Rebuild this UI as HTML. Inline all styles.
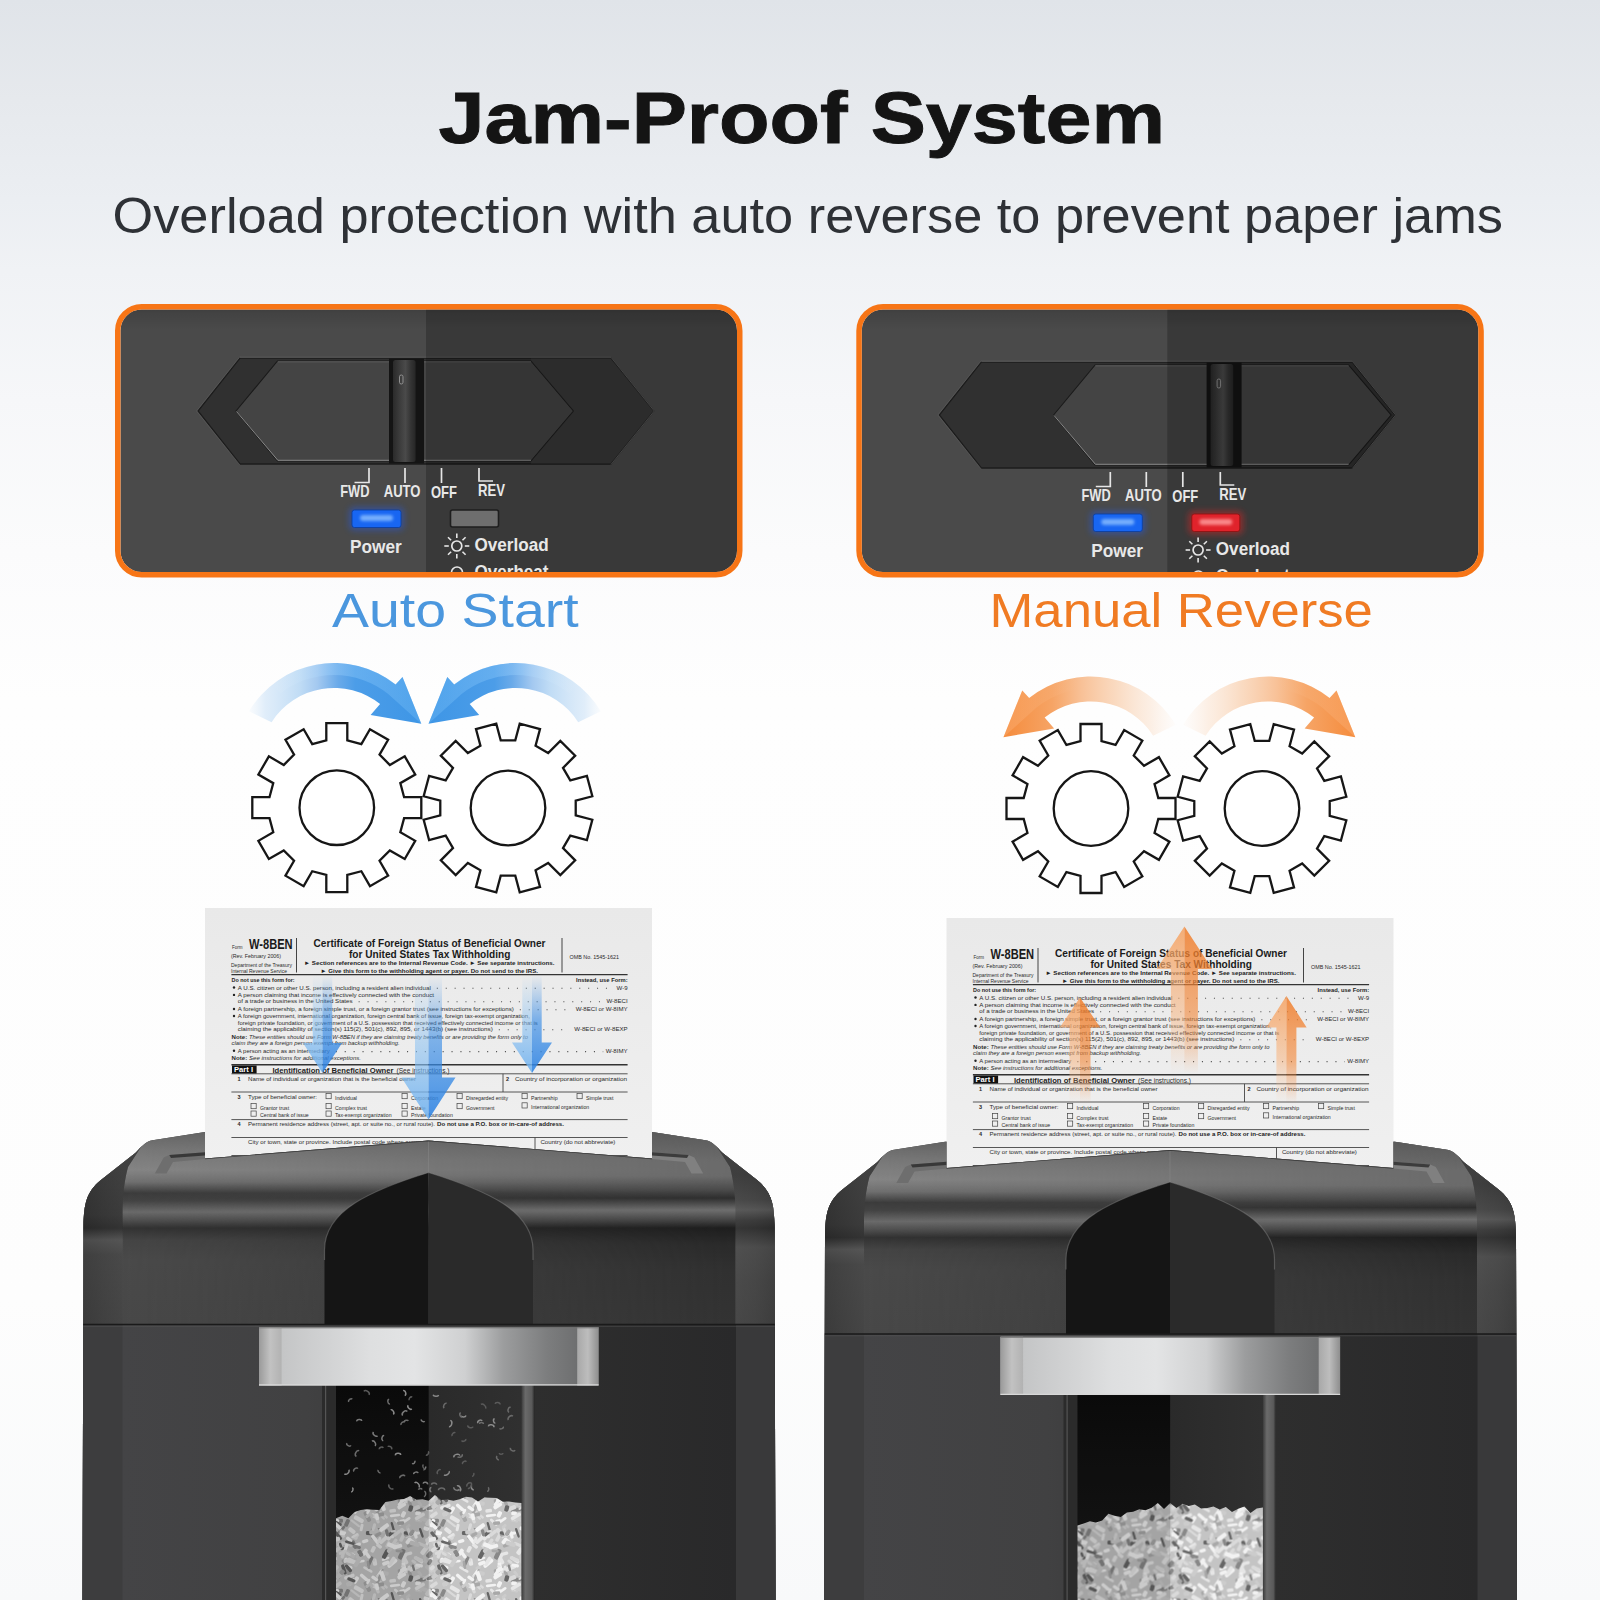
<!DOCTYPE html><html><head><meta charset="utf-8"><style>html,body{margin:0;padding:0;width:1600px;height:1600px;overflow:hidden;background:#f7f7f8}svg{display:block}body{font-family:"Liberation Sans",sans-serif}</style></head><body><svg width="1600" height="1600" viewBox="0 0 1600 1600"><defs>
<linearGradient id="bg" x1="0" y1="0" x2="0" y2="1">
<stop offset="0" stop-color="#e0e4e9"/><stop offset="0.0625" stop-color="#e6e9ed"/><stop offset="0.125" stop-color="#ebeef2"/><stop offset="0.169" stop-color="#f0f2f5"/><stop offset="0.25" stop-color="#f6f7f9"/><stop offset="0.344" stop-color="#fbfbfc"/><stop offset="0.4375" stop-color="#fefefe"/><stop offset="0.8125" stop-color="#fdfdfd"/><stop offset="1" stop-color="#f8f9fa"/>
</linearGradient>
<filter id="blur1" x="-50%" y="-50%" width="200%" height="200%"><feGaussianBlur stdDeviation="1.5"/></filter>
<filter id="blur3" x="-50%" y="-50%" width="200%" height="200%"><feGaussianBlur stdDeviation="3"/></filter>
<linearGradient id="gblue" gradientUnits="userSpaceOnUse" x1="248" y1="0" x2="421" y2="0">
<stop offset="0" stop-color="#dcebf9" stop-opacity="0.1"/><stop offset="0.1" stop-color="#d3e6f8" stop-opacity="0.7"/><stop offset="0.3" stop-color="#c0dcf5"/><stop offset="0.4" stop-color="#a4c9f0"/><stop offset="0.52" stop-color="#6aaae9"/><stop offset="0.62" stop-color="#4c9de8"/><stop offset="1" stop-color="#3e96e6"/>
</linearGradient>
<linearGradient id="hlblue" gradientUnits="userSpaceOnUse" x1="270" y1="0" x2="421" y2="0">
<stop offset="0" stop-color="#fff" stop-opacity="0"/><stop offset="0.4" stop-color="#9fd4ff" stop-opacity="0.35"/><stop offset="1" stop-color="#7cc4fa" stop-opacity="0.3"/>
</linearGradient>
<linearGradient id="hlorange" gradientUnits="userSpaceOnUse" x1="270" y1="0" x2="421" y2="0">
<stop offset="0" stop-color="#fff" stop-opacity="0"/><stop offset="0.5" stop-color="#ffd0a8" stop-opacity="0.0"/><stop offset="1" stop-color="#ffc090" stop-opacity="0.3"/>
</linearGradient>
<linearGradient id="gorange" gradientUnits="userSpaceOnUse" x1="248" y1="0" x2="421" y2="0">
<stop offset="0" stop-color="#fbe6d6" stop-opacity="0.05"/><stop offset="0.15" stop-color="#fae0cb" stop-opacity="0.5"/><stop offset="0.35" stop-color="#f9d4b6" stop-opacity="0.85"/><stop offset="0.55" stop-color="#f8c197"/><stop offset="0.72" stop-color="#f6a465"/><stop offset="1" stop-color="#f58c3d"/>
</linearGradient>

<linearGradient id="roof" x1="0" y1="1125" x2="0" y2="1325" gradientUnits="userSpaceOnUse"><stop offset="0.000" stop-color="#5e5e5e"/><stop offset="0.125" stop-color="#787878"/><stop offset="0.225" stop-color="#858585"/><stop offset="0.285" stop-color="#707070"/><stop offset="0.340" stop-color="#3c3c3c"/><stop offset="0.380" stop-color="#444444"/><stop offset="0.435" stop-color="#6a6a6a"/><stop offset="0.475" stop-color="#505050"/><stop offset="0.515" stop-color="#333333"/><stop offset="0.575" stop-color="#454545"/><stop offset="0.675" stop-color="#4a4a4a"/><stop offset="1.000" stop-color="#484848"/></linearGradient>
<linearGradient id="shadeH" x1="122" y1="0" x2="736" y2="0" gradientUnits="userSpaceOnUse">
<stop offset="0" stop-color="#000" stop-opacity="0"/><stop offset="0.4" stop-color="#000" stop-opacity="0.03"/><stop offset="1" stop-color="#000" stop-opacity="0.2"/>
</linearGradient>
<linearGradient id="ptop" x1="0" y1="0" x2="0" y2="1">
<stop offset="0" stop-color="#000" stop-opacity="0.25"/><stop offset="0.45" stop-color="#000" stop-opacity="0.1"/><stop offset="1" stop-color="#000" stop-opacity="0"/>
</linearGradient>
<linearGradient id="knob" x1="0" y1="0" x2="1" y2="0">
<stop offset="0" stop-color="#2a2a2a"/><stop offset="0.3" stop-color="#3c3c3c"/><stop offset="0.55" stop-color="#4a4a4a"/><stop offset="0.8" stop-color="#333"/><stop offset="1" stop-color="#262626"/>
</linearGradient>
<linearGradient id="binH" x1="122" y1="0" x2="736" y2="0" gradientUnits="userSpaceOnUse">
<stop offset="0" stop-color="#444446"/><stop offset="0.3" stop-color="#414142"/><stop offset="0.67" stop-color="#2e2e2e"/><stop offset="1" stop-color="#29292a"/>
</linearGradient>
<linearGradient id="bandHL" x1="0" y1="0" x2="0" y2="1">
<stop offset="0" stop-color="#fff" stop-opacity="0"/><stop offset="0.55" stop-color="#fff" stop-opacity="0.0"/><stop offset="0.72" stop-color="#fff" stop-opacity="0.12"/><stop offset="1" stop-color="#fff" stop-opacity="0"/>
</linearGradient>
<linearGradient id="sideV" x1="0" y1="1130" x2="0" y2="1325" gradientUnits="userSpaceOnUse">
<stop offset="0" stop-color="#444"/><stop offset="0.256" stop-color="#3a3a3a"/><stop offset="0.436" stop-color="#333"/><stop offset="0.503" stop-color="#222"/><stop offset="0.564" stop-color="#666"/><stop offset="0.641" stop-color="#4e4e4e"/><stop offset="1" stop-color="#464646"/>
</linearGradient>
<linearGradient id="sideVR" x1="0" y1="1130" x2="0" y2="1325" gradientUnits="userSpaceOnUse">
<stop offset="0" stop-color="#404040"/><stop offset="0.23" stop-color="#383838"/><stop offset="0.359" stop-color="#4e4e4e"/><stop offset="0.41" stop-color="#6e6e6e"/><stop offset="0.462" stop-color="#3a3a3a"/><stop offset="0.503" stop-color="#262626"/><stop offset="0.6" stop-color="#5a5a5a"/><stop offset="0.77" stop-color="#505050"/><stop offset="1" stop-color="#4a4a4a"/>
</linearGradient>
<linearGradient id="roof2" x1="0" y1="1125" x2="0" y2="1325" gradientUnits="userSpaceOnUse"><stop offset="0.000" stop-color="#555555"/><stop offset="0.175" stop-color="#6a6a6a"/><stop offset="0.255" stop-color="#6a6a6a"/><stop offset="0.325" stop-color="#4a4a4a"/><stop offset="0.365" stop-color="#2e2e2e"/><stop offset="0.425" stop-color="#6e6e6e"/><stop offset="0.475" stop-color="#444444"/><stop offset="0.515" stop-color="#1e1e1e"/><stop offset="0.600" stop-color="#2a2a2a"/><stop offset="0.725" stop-color="#303030"/><stop offset="1.000" stop-color="#333333"/></linearGradient>
<linearGradient id="rampH" x1="122" y1="0" x2="736" y2="0" gradientUnits="userSpaceOnUse">
<stop offset="0" stop-color="#000"/><stop offset="1" stop-color="#fff"/>
</linearGradient>
<mask id="rmask" maskUnits="userSpaceOnUse" x="60" y="1100" width="760" height="260"><rect x="60" y="1100" width="760" height="260" fill="url(#rampH)"/></mask>
<linearGradient id="sideL" x1="82" y1="0" x2="123" y2="0" gradientUnits="userSpaceOnUse">
<stop offset="0" stop-color="#2e2e2e"/><stop offset="0.5" stop-color="#3a3a3a"/><stop offset="1" stop-color="#444"/>
</linearGradient>
<linearGradient id="sideR" x1="736" y1="0" x2="776" y2="0" gradientUnits="userSpaceOnUse">
<stop offset="0" stop-color="#454545"/><stop offset="0.5" stop-color="#3d3d3d"/><stop offset="1" stop-color="#2e2e2e"/>
</linearGradient>
<linearGradient id="winL" x1="0" y1="0" x2="0" y2="1">
<stop offset="0" stop-color="#0d0d0d"/><stop offset="1" stop-color="#1c1c1c"/>
</linearGradient>
<linearGradient id="winR" x1="0" y1="0" x2="1" y2="0">
<stop offset="0" stop-color="#2a2a2a"/><stop offset="1" stop-color="#303030"/>
</linearGradient>
<linearGradient id="frameR" x1="0" y1="0" x2="1" y2="0">
<stop offset="0" stop-color="#3a3a3a"/><stop offset="0.3" stop-color="#6a6a6a"/><stop offset="0.8" stop-color="#5a5a5a"/><stop offset="1" stop-color="#2a2a2a"/>
</linearGradient>
<linearGradient id="handle" x1="281.6" y1="0" x2="577.2" y2="0" gradientUnits="userSpaceOnUse">
<stop offset="0" stop-color="#c4c5c6"/><stop offset="0.3" stop-color="#dedfe0"/><stop offset="0.45" stop-color="#e3e4e5"/><stop offset="0.62" stop-color="#cfd0d1"/><stop offset="0.75" stop-color="#9c9d9e"/><stop offset="0.9" stop-color="#7c7d7e"/><stop offset="1" stop-color="#6e6f70"/>
</linearGradient>
<linearGradient id="capL" x1="0" y1="0" x2="1" y2="0">
<stop offset="0" stop-color="#9a9a9a"/><stop offset="0.5" stop-color="#c2c2c2"/><stop offset="1" stop-color="#b2b2b2"/>
</linearGradient>
<linearGradient id="capR" x1="0" y1="0" x2="1" y2="0">
<stop offset="0" stop-color="#a8a8a8"/><stop offset="0.5" stop-color="#bdbdbd"/><stop offset="1" stop-color="#8e8e8e"/>
</linearGradient>
<pattern id="shredpat" width="96" height="70" patternUnits="userSpaceOnUse"><rect width="96" height="70" fill="#c4c4c4"/><rect x="37.7" y="37.5" width="11.5" height="3.3" rx="1.5" fill="#dadada" transform="rotate(14 43.4 39.2)"/><rect x="13.0" y="33.8" width="9.4" height="4.0" rx="1.5" fill="#f2f2f2" transform="rotate(-31 17.7 35.8)"/><rect x="3.8" y="55.5" width="9.9" height="2.3" rx="1.5" fill="#666" transform="rotate(74 8.7 56.7)"/><rect x="99.8" y="55.5" width="9.9" height="2.3" rx="1.5" fill="#666" transform="rotate(74 104.7 56.7)"/><rect x="59.7" y="42.0" width="6.1" height="2.2" rx="1.5" fill="#dadada" transform="rotate(-70 62.8 43.1)"/><rect x="15.7" y="15.3" width="5.2" height="3.3" rx="1.5" fill="#dadada" transform="rotate(55 18.3 16.9)"/><rect x="45.6" y="43.0" width="8.5" height="3.7" rx="1.5" fill="#dadada" transform="rotate(-35 49.8 44.8)"/><rect x="90.3" y="67.8" width="10.9" height="3.8" rx="1.5" fill="#e6e6e6" transform="rotate(-43 95.8 69.7)"/><rect x="90.3" y="-2.2" width="10.9" height="3.8" rx="1.5" fill="#e6e6e6" transform="rotate(-43 95.8 -0.3)"/><rect x="-5.7" y="67.8" width="10.9" height="3.8" rx="1.5" fill="#e6e6e6" transform="rotate(-43 -0.2 69.7)"/><rect x="-5.7" y="-2.2" width="10.9" height="3.8" rx="1.5" fill="#e6e6e6" transform="rotate(-43 -0.2 -0.3)"/><rect x="22.6" y="3.4" width="10.4" height="3.1" rx="1.5" fill="#a8a8a8" transform="rotate(-18 27.7 4.9)"/><rect x="22.6" y="73.4" width="10.4" height="3.1" rx="1.5" fill="#a8a8a8" transform="rotate(-18 27.7 74.9)"/><rect x="89.5" y="58.0" width="5.0" height="2.7" rx="1.5" fill="#888" transform="rotate(-5 92.0 59.3)"/><rect x="89.5" y="-12.0" width="5.0" height="2.7" rx="1.5" fill="#888" transform="rotate(-5 92.0 -10.7)"/><rect x="-6.5" y="58.0" width="5.0" height="2.7" rx="1.5" fill="#888" transform="rotate(-5 -4.0 59.3)"/><rect x="-6.5" y="-12.0" width="5.0" height="2.7" rx="1.5" fill="#888" transform="rotate(-5 -4.0 -10.7)"/><rect x="91.4" y="26.0" width="5.5" height="3.6" rx="1.5" fill="#cccccc" transform="rotate(-37 94.1 27.8)"/><rect x="-4.6" y="26.0" width="5.5" height="3.6" rx="1.5" fill="#cccccc" transform="rotate(-37 -1.9 27.8)"/><rect x="2.5" y="21.3" width="11.7" height="3.9" rx="1.5" fill="#f2f2f2" transform="rotate(-41 8.4 23.3)"/><rect x="98.5" y="21.3" width="11.7" height="3.9" rx="1.5" fill="#f2f2f2" transform="rotate(-41 104.4 23.3)"/><rect x="4.4" y="2.9" width="10.6" height="2.6" rx="1.5" fill="#dadada" transform="rotate(-8 9.7 4.2)"/><rect x="4.4" y="72.9" width="10.6" height="2.6" rx="1.5" fill="#dadada" transform="rotate(-8 9.7 74.2)"/><rect x="100.4" y="2.9" width="10.6" height="2.6" rx="1.5" fill="#dadada" transform="rotate(-8 105.7 4.2)"/><rect x="100.4" y="72.9" width="10.6" height="2.6" rx="1.5" fill="#dadada" transform="rotate(-8 105.7 74.2)"/><rect x="15.3" y="49.4" width="5.9" height="3.7" rx="1.5" fill="#f2f2f2" transform="rotate(-13 18.3 51.2)"/><rect x="14.5" y="16.9" width="11.8" height="4.0" rx="1.5" fill="#e6e6e6" transform="rotate(62 20.4 18.9)"/><rect x="14.7" y="25.8" width="11.0" height="3.7" rx="1.5" fill="#f2f2f2" transform="rotate(78 20.2 27.6)"/><rect x="15.3" y="16.6" width="10.4" height="3.0" rx="1.5" fill="#e6e6e6" transform="rotate(-68 20.5 18.1)"/><rect x="5.3" y="39.0" width="6.7" height="3.6" rx="1.5" fill="#e6e6e6" transform="rotate(-7 8.7 40.8)"/><rect x="101.3" y="39.0" width="6.7" height="3.6" rx="1.5" fill="#e6e6e6" transform="rotate(-7 104.7 40.8)"/><rect x="87.6" y="31.8" width="9.0" height="4.2" rx="1.5" fill="#f2f2f2" transform="rotate(-55 92.1 33.9)"/><rect x="-8.4" y="31.8" width="9.0" height="4.2" rx="1.5" fill="#f2f2f2" transform="rotate(-55 -3.9 33.9)"/><rect x="83.8" y="55.9" width="6.7" height="2.6" rx="1.5" fill="#cccccc" transform="rotate(70 87.2 57.2)"/><rect x="-12.2" y="55.9" width="6.7" height="2.6" rx="1.5" fill="#cccccc" transform="rotate(70 -8.8 57.2)"/><rect x="13.3" y="64.7" width="11.2" height="3.6" rx="1.5" fill="#dadada" transform="rotate(-63 18.9 66.5)"/><rect x="13.3" y="-5.3" width="11.2" height="3.6" rx="1.5" fill="#dadada" transform="rotate(-63 18.9 -3.5)"/><rect x="0.4" y="65.5" width="6.7" height="3.8" rx="1.5" fill="#e6e6e6" transform="rotate(52 3.7 67.4)"/><rect x="0.4" y="-4.5" width="6.7" height="3.8" rx="1.5" fill="#e6e6e6" transform="rotate(52 3.7 -2.6)"/><rect x="96.4" y="65.5" width="6.7" height="3.8" rx="1.5" fill="#e6e6e6" transform="rotate(52 99.7 67.4)"/><rect x="96.4" y="-4.5" width="6.7" height="3.8" rx="1.5" fill="#e6e6e6" transform="rotate(52 99.7 -2.6)"/><rect x="54.1" y="18.6" width="6.2" height="3.9" rx="1.5" fill="#f2f2f2" transform="rotate(-43 57.3 20.5)"/><rect x="49.0" y="58.2" width="9.3" height="2.8" rx="1.5" fill="#888" transform="rotate(-47 53.7 59.7)"/><rect x="49.0" y="-11.8" width="9.3" height="2.8" rx="1.5" fill="#888" transform="rotate(-47 53.7 -10.3)"/><rect x="-2.5" y="17.7" width="8.1" height="2.3" rx="1.5" fill="#f2f2f2" transform="rotate(-21 1.6 18.8)"/><rect x="93.5" y="17.7" width="8.1" height="2.3" rx="1.5" fill="#f2f2f2" transform="rotate(-21 97.6 18.8)"/><rect x="51.2" y="7.1" width="7.5" height="4.2" rx="1.5" fill="#666" transform="rotate(25 54.9 9.2)"/><rect x="51.2" y="77.1" width="7.5" height="4.2" rx="1.5" fill="#666" transform="rotate(25 54.9 79.2)"/><rect x="63.4" y="39.8" width="6.0" height="2.3" rx="1.5" fill="#f2f2f2" transform="rotate(66 66.4 40.9)"/><rect x="64.7" y="65.6" width="5.1" height="3.7" rx="1.5" fill="#dadada" transform="rotate(37 67.3 67.4)"/><rect x="64.7" y="-4.4" width="5.1" height="3.7" rx="1.5" fill="#dadada" transform="rotate(37 67.3 -2.6)"/><rect x="27.9" y="68.2" width="5.5" height="3.5" rx="1.5" fill="#cccccc" transform="rotate(64 30.6 70.0)"/><rect x="27.9" y="-1.8" width="5.5" height="3.5" rx="1.5" fill="#cccccc" transform="rotate(64 30.6 -0.0)"/><rect x="65.5" y="47.1" width="10.6" height="4.3" rx="1.5" fill="#e6e6e6" transform="rotate(30 70.8 49.3)"/><rect x="82.5" y="59.0" width="7.9" height="4.0" rx="1.5" fill="#a8a8a8" transform="rotate(12 86.5 61.0)"/><rect x="82.5" y="-11.0" width="7.9" height="4.0" rx="1.5" fill="#a8a8a8" transform="rotate(12 86.5 -9.0)"/><rect x="-13.5" y="59.0" width="7.9" height="4.0" rx="1.5" fill="#a8a8a8" transform="rotate(12 -9.5 61.0)"/><rect x="-13.5" y="-11.0" width="7.9" height="4.0" rx="1.5" fill="#a8a8a8" transform="rotate(12 -9.5 -9.0)"/><rect x="55.5" y="25.0" width="9.1" height="3.6" rx="1.5" fill="#f2f2f2" transform="rotate(22 60.0 26.8)"/><rect x="90.3" y="60.0" width="10.1" height="3.1" rx="1.5" fill="#cccccc" transform="rotate(13 95.4 61.6)"/><rect x="90.3" y="-10.0" width="10.1" height="3.1" rx="1.5" fill="#cccccc" transform="rotate(13 95.4 -8.4)"/><rect x="-5.7" y="60.0" width="10.1" height="3.1" rx="1.5" fill="#cccccc" transform="rotate(13 -0.6 61.6)"/><rect x="-5.7" y="-10.0" width="10.1" height="3.1" rx="1.5" fill="#cccccc" transform="rotate(13 -0.6 -8.4)"/><rect x="39.5" y="56.7" width="5.6" height="3.9" rx="1.5" fill="#f2f2f2" transform="rotate(16 42.3 58.7)"/><rect x="39.5" y="-13.3" width="5.6" height="3.9" rx="1.5" fill="#f2f2f2" transform="rotate(16 42.3 -11.3)"/><rect x="41.2" y="14.4" width="9.9" height="3.3" rx="1.5" fill="#dadada" transform="rotate(67 46.2 16.1)"/><rect x="21.0" y="-1.1" width="7.1" height="3.8" rx="1.5" fill="#f2f2f2" transform="rotate(-53 24.6 0.8)"/><rect x="21.0" y="68.9" width="7.1" height="3.8" rx="1.5" fill="#f2f2f2" transform="rotate(-53 24.6 70.8)"/><rect x="82.9" y="44.1" width="8.1" height="4.3" rx="1.5" fill="#e6e6e6" transform="rotate(27 86.9 46.2)"/><rect x="-13.1" y="44.1" width="8.1" height="4.3" rx="1.5" fill="#e6e6e6" transform="rotate(27 -9.1 46.2)"/><rect x="13.7" y="28.0" width="10.6" height="4.3" rx="1.5" fill="#a8a8a8" transform="rotate(-18 19.1 30.2)"/><rect x="53.0" y="20.5" width="6.0" height="3.3" rx="1.5" fill="#a8a8a8" transform="rotate(56 56.0 22.2)"/><rect x="64.8" y="65.2" width="6.9" height="2.6" rx="1.5" fill="#dadada" transform="rotate(-36 68.3 66.5)"/><rect x="64.8" y="-4.8" width="6.9" height="2.6" rx="1.5" fill="#dadada" transform="rotate(-36 68.3 -3.5)"/><rect x="15.9" y="27.3" width="9.4" height="3.3" rx="1.5" fill="#e6e6e6" transform="rotate(54 20.6 29.0)"/><rect x="91.5" y="30.5" width="5.5" height="2.3" rx="1.5" fill="#a8a8a8" transform="rotate(-73 94.3 31.7)"/><rect x="-4.5" y="30.5" width="5.5" height="2.3" rx="1.5" fill="#a8a8a8" transform="rotate(-73 -1.7 31.7)"/><rect x="64.4" y="37.9" width="7.2" height="4.0" rx="1.5" fill="#f2f2f2" transform="rotate(-58 68.0 39.9)"/><rect x="38.3" y="0.4" width="10.8" height="2.7" rx="1.5" fill="#f2f2f2" transform="rotate(-72 43.7 1.7)"/><rect x="38.3" y="70.4" width="10.8" height="2.7" rx="1.5" fill="#f2f2f2" transform="rotate(-72 43.7 71.7)"/><rect x="55.7" y="29.4" width="9.4" height="3.7" rx="1.5" fill="#a8a8a8" transform="rotate(73 60.4 31.3)"/><rect x="61.5" y="12.6" width="8.3" height="2.6" rx="1.5" fill="#f2f2f2" transform="rotate(-4 65.7 14.0)"/><rect x="65.1" y="11.0" width="6.9" height="3.0" rx="1.5" fill="#cccccc" transform="rotate(3 68.6 12.5)"/><rect x="55.1" y="50.9" width="7.8" height="4.0" rx="1.5" fill="#888" transform="rotate(-66 59.0 52.9)"/><rect x="86.6" y="48.9" width="5.9" height="3.2" rx="1.5" fill="#dadada" transform="rotate(66 89.5 50.6)"/><rect x="-9.4" y="48.9" width="5.9" height="3.2" rx="1.5" fill="#dadada" transform="rotate(66 -6.5 50.6)"/><rect x="30.6" y="37.8" width="11.2" height="4.0" rx="1.5" fill="#888" transform="rotate(-6 36.2 39.8)"/><rect x="57.5" y="12.3" width="10.1" height="4.1" rx="1.5" fill="#cccccc" transform="rotate(35 62.5 14.3)"/><rect x="14.5" y="60.8" width="11.9" height="4.4" rx="1.5" fill="#dadada" transform="rotate(47 20.5 63.0)"/><rect x="14.5" y="-9.2" width="11.9" height="4.4" rx="1.5" fill="#dadada" transform="rotate(47 20.5 -7.0)"/><rect x="25.3" y="62.2" width="11.0" height="3.0" rx="1.5" fill="#f2f2f2" transform="rotate(-9 30.8 63.7)"/><rect x="25.3" y="-7.8" width="11.0" height="3.0" rx="1.5" fill="#f2f2f2" transform="rotate(-9 30.8 -6.3)"/><rect x="48.6" y="52.6" width="8.4" height="2.3" rx="1.5" fill="#a8a8a8" transform="rotate(-70 52.8 53.8)"/><rect x="73.1" y="10.1" width="7.3" height="4.0" rx="1.5" fill="#f2f2f2" transform="rotate(-56 76.8 12.1)"/><rect x="44.1" y="48.8" width="10.9" height="3.8" rx="1.5" fill="#888" transform="rotate(-1 49.6 50.6)"/><rect x="87.8" y="4.3" width="6.5" height="3.4" rx="1.5" fill="#e6e6e6" transform="rotate(37 91.1 6.0)"/><rect x="87.8" y="74.3" width="6.5" height="3.4" rx="1.5" fill="#e6e6e6" transform="rotate(37 91.1 76.0)"/><rect x="-8.2" y="4.3" width="6.5" height="3.4" rx="1.5" fill="#e6e6e6" transform="rotate(37 -4.9 6.0)"/><rect x="-8.2" y="74.3" width="6.5" height="3.4" rx="1.5" fill="#e6e6e6" transform="rotate(37 -4.9 76.0)"/><rect x="55.9" y="34.9" width="10.9" height="3.5" rx="1.5" fill="#e6e6e6" transform="rotate(-19 61.3 36.6)"/><rect x="77.9" y="61.0" width="6.5" height="4.2" rx="1.5" fill="#666" transform="rotate(4 81.1 63.0)"/><rect x="77.9" y="-9.0" width="6.5" height="4.2" rx="1.5" fill="#666" transform="rotate(4 81.1 -7.0)"/><rect x="50.6" y="12.4" width="8.8" height="3.4" rx="1.5" fill="#dadada" transform="rotate(-76 55.0 14.1)"/><rect x="89.2" y="34.1" width="7.8" height="4.0" rx="1.5" fill="#dadada" transform="rotate(-1 93.1 36.1)"/><rect x="-6.8" y="34.1" width="7.8" height="4.0" rx="1.5" fill="#dadada" transform="rotate(-1 -2.9 36.1)"/><rect x="61.9" y="3.0" width="8.8" height="3.2" rx="1.5" fill="#888" transform="rotate(68 66.3 4.6)"/><rect x="61.9" y="73.0" width="8.8" height="3.2" rx="1.5" fill="#888" transform="rotate(68 66.3 74.6)"/><rect x="22.9" y="31.5" width="5.9" height="3.2" rx="1.5" fill="#a8a8a8" transform="rotate(64 25.8 33.1)"/><rect x="42.6" y="20.4" width="6.3" height="3.6" rx="1.5" fill="#888" transform="rotate(-59 45.7 22.2)"/><rect x="71.6" y="0.2" width="6.4" height="2.7" rx="1.5" fill="#cccccc" transform="rotate(-28 74.8 1.6)"/><rect x="71.6" y="70.2" width="6.4" height="2.7" rx="1.5" fill="#cccccc" transform="rotate(-28 74.8 71.6)"/><rect x="31.2" y="41.4" width="5.7" height="3.9" rx="1.5" fill="#f2f2f2" transform="rotate(2 34.1 43.4)"/><rect x="19.7" y="12.2" width="8.7" height="3.2" rx="1.5" fill="#e6e6e6" transform="rotate(-14 24.1 13.8)"/><rect x="47.6" y="9.4" width="6.4" height="3.7" rx="1.5" fill="#cccccc" transform="rotate(5 50.8 11.2)"/><rect x="47.6" y="79.4" width="6.4" height="3.7" rx="1.5" fill="#cccccc" transform="rotate(5 50.8 81.2)"/><rect x="76.2" y="41.5" width="11.0" height="2.7" rx="1.5" fill="#cccccc" transform="rotate(50 81.7 42.8)"/><rect x="83.1" y="19.9" width="7.2" height="4.3" rx="1.5" fill="#e6e6e6" transform="rotate(80 86.7 22.1)"/><rect x="-12.9" y="19.9" width="7.2" height="4.3" rx="1.5" fill="#e6e6e6" transform="rotate(80 -9.3 22.1)"/><rect x="81.9" y="7.4" width="6.7" height="3.9" rx="1.5" fill="#e6e6e6" transform="rotate(-64 85.2 9.4)"/><rect x="81.9" y="77.4" width="6.7" height="3.9" rx="1.5" fill="#e6e6e6" transform="rotate(-64 85.2 79.4)"/><rect x="-14.1" y="7.4" width="6.7" height="3.9" rx="1.5" fill="#e6e6e6" transform="rotate(-64 -10.8 9.4)"/><rect x="-14.1" y="77.4" width="6.7" height="3.9" rx="1.5" fill="#e6e6e6" transform="rotate(-64 -10.8 79.4)"/><rect x="74.6" y="28.3" width="10.5" height="2.5" rx="1.5" fill="#e6e6e6" transform="rotate(30 79.9 29.5)"/><rect x="-3.2" y="11.9" width="9.8" height="4.3" rx="1.5" fill="#666" transform="rotate(-62 1.7 14.1)"/><rect x="92.8" y="11.9" width="9.8" height="4.3" rx="1.5" fill="#666" transform="rotate(-62 97.7 14.1)"/><rect x="44.3" y="51.2" width="8.5" height="3.8" rx="1.5" fill="#f2f2f2" transform="rotate(-69 48.5 53.1)"/><rect x="5.8" y="0.9" width="8.9" height="3.4" rx="1.5" fill="#dadada" transform="rotate(-57 10.2 2.6)"/><rect x="5.8" y="70.9" width="8.9" height="3.4" rx="1.5" fill="#dadada" transform="rotate(-57 10.2 72.6)"/><rect x="101.8" y="0.9" width="8.9" height="3.4" rx="1.5" fill="#dadada" transform="rotate(-57 106.2 2.6)"/><rect x="101.8" y="70.9" width="8.9" height="3.4" rx="1.5" fill="#dadada" transform="rotate(-57 106.2 72.6)"/><rect x="12.3" y="12.0" width="10.9" height="4.5" rx="1.5" fill="#888" transform="rotate(-65 17.7 14.3)"/><rect x="1.8" y="64.6" width="8.2" height="4.0" rx="1.5" fill="#e6e6e6" transform="rotate(-5 5.9 66.6)"/><rect x="1.8" y="-5.4" width="8.2" height="4.0" rx="1.5" fill="#e6e6e6" transform="rotate(-5 5.9 -3.4)"/><rect x="97.8" y="64.6" width="8.2" height="4.0" rx="1.5" fill="#e6e6e6" transform="rotate(-5 101.9 66.6)"/><rect x="97.8" y="-5.4" width="8.2" height="4.0" rx="1.5" fill="#e6e6e6" transform="rotate(-5 101.9 -3.4)"/><rect x="44.9" y="29.0" width="9.2" height="2.2" rx="1.5" fill="#cccccc" transform="rotate(55 49.5 30.1)"/><rect x="12.3" y="30.2" width="10.2" height="3.1" rx="1.5" fill="#f2f2f2" transform="rotate(-54 17.4 31.8)"/><rect x="43.6" y="-0.9" width="11.3" height="4.0" rx="1.5" fill="#cccccc" transform="rotate(58 49.2 1.1)"/><rect x="43.6" y="69.1" width="11.3" height="4.0" rx="1.5" fill="#cccccc" transform="rotate(58 49.2 71.1)"/><rect x="55.8" y="26.6" width="9.2" height="3.4" rx="1.5" fill="#666" transform="rotate(49 60.4 28.3)"/><rect x="19.7" y="61.8" width="10.2" height="4.0" rx="1.5" fill="#a8a8a8" transform="rotate(-15 24.8 63.8)"/><rect x="19.7" y="-8.2" width="10.2" height="4.0" rx="1.5" fill="#a8a8a8" transform="rotate(-15 24.8 -6.2)"/><rect x="81.1" y="59.6" width="9.9" height="4.0" rx="1.5" fill="#cccccc" transform="rotate(-15 86.1 61.6)"/><rect x="81.1" y="-10.4" width="9.9" height="4.0" rx="1.5" fill="#cccccc" transform="rotate(-15 86.1 -8.4)"/><rect x="-14.9" y="59.6" width="9.9" height="4.0" rx="1.5" fill="#cccccc" transform="rotate(-15 -9.9 61.6)"/><rect x="-14.9" y="-10.4" width="9.9" height="4.0" rx="1.5" fill="#cccccc" transform="rotate(-15 -9.9 -8.4)"/><rect x="65.7" y="3.3" width="7.4" height="3.3" rx="1.5" fill="#f2f2f2" transform="rotate(-23 69.4 4.9)"/><rect x="65.7" y="73.3" width="7.4" height="3.3" rx="1.5" fill="#f2f2f2" transform="rotate(-23 69.4 74.9)"/><rect x="58.0" y="41.5" width="6.6" height="4.4" rx="1.5" fill="#cccccc" transform="rotate(-26 61.3 43.7)"/><rect x="59.0" y="38.3" width="8.7" height="3.1" rx="1.5" fill="#666" transform="rotate(23 63.3 39.9)"/><rect x="61.4" y="52.2" width="11.9" height="2.3" rx="1.5" fill="#dadada" transform="rotate(38 67.3 53.3)"/><rect x="22.0" y="26.8" width="5.4" height="2.6" rx="1.5" fill="#e6e6e6" transform="rotate(-64 24.6 28.1)"/><rect x="19.7" y="61.7" width="8.9" height="3.4" rx="1.5" fill="#666" transform="rotate(11 24.1 63.4)"/><rect x="19.7" y="-8.3" width="8.9" height="3.4" rx="1.5" fill="#666" transform="rotate(11 24.1 -6.6)"/><rect x="90.2" y="43.5" width="10.7" height="2.4" rx="1.5" fill="#dadada" transform="rotate(41 95.5 44.7)"/><rect x="-5.8" y="43.5" width="10.7" height="2.4" rx="1.5" fill="#dadada" transform="rotate(41 -0.5 44.7)"/><rect x="1.3" y="63.5" width="6.1" height="3.3" rx="1.5" fill="#f2f2f2" transform="rotate(-1 4.3 65.1)"/><rect x="1.3" y="-6.5" width="6.1" height="3.3" rx="1.5" fill="#f2f2f2" transform="rotate(-1 4.3 -4.9)"/><rect x="97.3" y="63.5" width="6.1" height="3.3" rx="1.5" fill="#f2f2f2" transform="rotate(-1 100.3 65.1)"/><rect x="97.3" y="-6.5" width="6.1" height="3.3" rx="1.5" fill="#f2f2f2" transform="rotate(-1 100.3 -4.9)"/><rect x="52.9" y="2.5" width="11.6" height="3.2" rx="1.5" fill="#dadada" transform="rotate(16 58.7 4.1)"/><rect x="52.9" y="72.5" width="11.6" height="3.2" rx="1.5" fill="#dadada" transform="rotate(16 58.7 74.1)"/><rect x="30.3" y="18.3" width="9.6" height="3.5" rx="1.5" fill="#e6e6e6" transform="rotate(35 35.1 20.0)"/><rect x="25.1" y="-0.2" width="6.7" height="2.3" rx="1.5" fill="#f2f2f2" transform="rotate(41 28.4 1.0)"/><rect x="25.1" y="69.8" width="6.7" height="2.3" rx="1.5" fill="#f2f2f2" transform="rotate(41 28.4 71.0)"/><rect x="32.3" y="61.7" width="10.2" height="2.3" rx="1.5" fill="#666" transform="rotate(71 37.4 62.8)"/><rect x="32.3" y="-8.3" width="10.2" height="2.3" rx="1.5" fill="#666" transform="rotate(71 37.4 -7.2)"/><rect x="3.1" y="61.7" width="8.0" height="3.3" rx="1.5" fill="#666" transform="rotate(-41 7.1 63.4)"/><rect x="3.1" y="-8.3" width="8.0" height="3.3" rx="1.5" fill="#666" transform="rotate(-41 7.1 -6.6)"/><rect x="99.1" y="61.7" width="8.0" height="3.3" rx="1.5" fill="#666" transform="rotate(-41 103.1 63.4)"/><rect x="99.1" y="-8.3" width="8.0" height="3.3" rx="1.5" fill="#666" transform="rotate(-41 103.1 -6.6)"/><rect x="45.2" y="64.0" width="10.1" height="3.3" rx="1.5" fill="#666" transform="rotate(51 50.2 65.6)"/><rect x="45.2" y="-6.0" width="10.1" height="3.3" rx="1.5" fill="#666" transform="rotate(51 50.2 -4.4)"/><rect x="53.3" y="6.4" width="9.4" height="3.2" rx="1.5" fill="#f2f2f2" transform="rotate(-72 57.9 8.1)"/><rect x="53.3" y="76.4" width="9.4" height="3.2" rx="1.5" fill="#f2f2f2" transform="rotate(-72 57.9 78.1)"/><rect x="46.6" y="6.8" width="8.1" height="3.7" rx="1.5" fill="#dadada" transform="rotate(-38 50.7 8.7)"/><rect x="46.6" y="76.8" width="8.1" height="3.7" rx="1.5" fill="#dadada" transform="rotate(-38 50.7 78.7)"/><rect x="50.7" y="27.7" width="10.4" height="3.4" rx="1.5" fill="#666" transform="rotate(72 55.9 29.4)"/><rect x="67.6" y="14.6" width="5.8" height="4.3" rx="1.5" fill="#cccccc" transform="rotate(20 70.5 16.7)"/><rect x="29.6" y="17.3" width="9.8" height="3.5" rx="1.5" fill="#dadada" transform="rotate(21 34.5 19.0)"/><rect x="69.0" y="11.1" width="6.7" height="4.5" rx="1.5" fill="#888" transform="rotate(61 72.3 13.3)"/><rect x="0.3" y="2.7" width="6.9" height="3.2" rx="1.5" fill="#dadada" transform="rotate(-64 3.8 4.3)"/><rect x="0.3" y="72.7" width="6.9" height="3.2" rx="1.5" fill="#dadada" transform="rotate(-64 3.8 74.3)"/><rect x="96.3" y="2.7" width="6.9" height="3.2" rx="1.5" fill="#dadada" transform="rotate(-64 99.8 4.3)"/><rect x="96.3" y="72.7" width="6.9" height="3.2" rx="1.5" fill="#dadada" transform="rotate(-64 99.8 74.3)"/><rect x="49.2" y="3.2" width="5.6" height="3.8" rx="1.5" fill="#dadada" transform="rotate(21 52.0 5.1)"/><rect x="49.2" y="73.2" width="5.6" height="3.8" rx="1.5" fill="#dadada" transform="rotate(21 52.0 75.1)"/><rect x="32.6" y="32.0" width="6.5" height="3.0" rx="1.5" fill="#cccccc" transform="rotate(54 35.8 33.5)"/><rect x="1.8" y="6.6" width="10.7" height="3.6" rx="1.5" fill="#cccccc" transform="rotate(-46 7.1 8.4)"/><rect x="1.8" y="76.6" width="10.7" height="3.6" rx="1.5" fill="#cccccc" transform="rotate(-46 7.1 78.4)"/><rect x="97.8" y="6.6" width="10.7" height="3.6" rx="1.5" fill="#cccccc" transform="rotate(-46 103.1 8.4)"/><rect x="97.8" y="76.6" width="10.7" height="3.6" rx="1.5" fill="#cccccc" transform="rotate(-46 103.1 78.4)"/><rect x="35.4" y="16.5" width="10.7" height="3.0" rx="1.5" fill="#cccccc" transform="rotate(78 40.7 18.1)"/><rect x="26.1" y="36.2" width="10.2" height="4.3" rx="1.5" fill="#dadada" transform="rotate(-21 31.2 38.4)"/><rect x="6.5" y="60.1" width="5.5" height="2.4" rx="1.5" fill="#dadada" transform="rotate(-2 9.3 61.3)"/><rect x="6.5" y="-9.9" width="5.5" height="2.4" rx="1.5" fill="#dadada" transform="rotate(-2 9.3 -8.7)"/><rect x="102.5" y="60.1" width="5.5" height="2.4" rx="1.5" fill="#dadada" transform="rotate(-2 105.3 61.3)"/><rect x="102.5" y="-9.9" width="5.5" height="2.4" rx="1.5" fill="#dadada" transform="rotate(-2 105.3 -8.7)"/><rect x="60.6" y="19.7" width="10.4" height="2.4" rx="1.5" fill="#e6e6e6" transform="rotate(26 65.8 20.9)"/><rect x="2.8" y="19.4" width="10.1" height="3.8" rx="1.5" fill="#e6e6e6" transform="rotate(-57 7.8 21.3)"/><rect x="98.8" y="19.4" width="10.1" height="3.8" rx="1.5" fill="#e6e6e6" transform="rotate(-57 103.8 21.3)"/><rect x="30.6" y="49.6" width="7.6" height="2.5" rx="1.5" fill="#cccccc" transform="rotate(11 34.3 50.8)"/><rect x="82.5" y="64.2" width="11.4" height="3.2" rx="1.5" fill="#a8a8a8" transform="rotate(-31 88.2 65.8)"/><rect x="82.5" y="-5.8" width="11.4" height="3.2" rx="1.5" fill="#a8a8a8" transform="rotate(-31 88.2 -4.2)"/><rect x="-13.5" y="64.2" width="11.4" height="3.2" rx="1.5" fill="#a8a8a8" transform="rotate(-31 -7.8 65.8)"/><rect x="-13.5" y="-5.8" width="11.4" height="3.2" rx="1.5" fill="#a8a8a8" transform="rotate(-31 -7.8 -4.2)"/><rect x="24.7" y="25.8" width="11.5" height="4.3" rx="1.5" fill="#e6e6e6" transform="rotate(-22 30.5 28.0)"/><rect x="31.2" y="23.9" width="7.8" height="3.1" rx="1.5" fill="#f2f2f2" transform="rotate(10 35.1 25.4)"/><rect x="71.1" y="36.1" width="10.9" height="3.5" rx="1.5" fill="#f2f2f2" transform="rotate(41 76.5 37.8)"/><rect x="82.0" y="18.0" width="5.2" height="3.4" rx="1.5" fill="#dadada" transform="rotate(11 84.6 19.7)"/><rect x="-14.0" y="18.0" width="5.2" height="3.4" rx="1.5" fill="#dadada" transform="rotate(11 -11.4 19.7)"/><rect x="87.5" y="44.4" width="10.6" height="2.3" rx="1.5" fill="#dadada" transform="rotate(46 92.8 45.6)"/><rect x="-8.5" y="44.4" width="10.6" height="2.3" rx="1.5" fill="#dadada" transform="rotate(46 -3.2 45.6)"/><rect x="3.0" y="3.6" width="10.2" height="4.3" rx="1.5" fill="#f2f2f2" transform="rotate(21 8.1 5.7)"/><rect x="3.0" y="73.6" width="10.2" height="4.3" rx="1.5" fill="#f2f2f2" transform="rotate(21 8.1 75.7)"/><rect x="99.0" y="3.6" width="10.2" height="4.3" rx="1.5" fill="#f2f2f2" transform="rotate(21 104.1 5.7)"/><rect x="99.0" y="73.6" width="10.2" height="4.3" rx="1.5" fill="#f2f2f2" transform="rotate(21 104.1 75.7)"/><rect x="9.0" y="50.8" width="9.5" height="2.8" rx="1.5" fill="#e6e6e6" transform="rotate(42 13.8 52.2)"/><rect x="46.2" y="52.0" width="7.8" height="3.0" rx="1.5" fill="#666" transform="rotate(28 50.1 53.5)"/><rect x="42.4" y="35.7" width="10.0" height="3.8" rx="1.5" fill="#888" transform="rotate(-14 47.4 37.6)"/><rect x="73.8" y="44.6" width="11.0" height="4.1" rx="1.5" fill="#a8a8a8" transform="rotate(62 79.3 46.7)"/><rect x="87.6" y="42.9" width="8.7" height="3.8" rx="1.5" fill="#a8a8a8" transform="rotate(-13 91.9 44.8)"/><rect x="-8.4" y="42.9" width="8.7" height="3.8" rx="1.5" fill="#a8a8a8" transform="rotate(-13 -4.1 44.8)"/><rect x="35.3" y="8.0" width="10.2" height="4.5" rx="1.5" fill="#e6e6e6" transform="rotate(-53 40.4 10.2)"/><rect x="35.3" y="78.0" width="10.2" height="4.5" rx="1.5" fill="#e6e6e6" transform="rotate(-53 40.4 80.2)"/><rect x="16.1" y="27.5" width="7.0" height="4.4" rx="1.5" fill="#f2f2f2" transform="rotate(-31 19.6 29.7)"/><rect x="5.8" y="44.1" width="10.4" height="2.6" rx="1.5" fill="#f2f2f2" transform="rotate(-7 11.0 45.4)"/><rect x="101.8" y="44.1" width="10.4" height="2.6" rx="1.5" fill="#f2f2f2" transform="rotate(-7 107.0 45.4)"/><rect x="53.4" y="62.4" width="5.3" height="2.4" rx="1.5" fill="#f2f2f2" transform="rotate(-45 56.1 63.7)"/><rect x="53.4" y="-7.6" width="5.3" height="2.4" rx="1.5" fill="#f2f2f2" transform="rotate(-45 56.1 -6.3)"/><rect x="18.0" y="48.8" width="9.2" height="2.7" rx="1.5" fill="#f2f2f2" transform="rotate(-35 22.6 50.2)"/><rect x="13.0" y="51.3" width="7.2" height="3.5" rx="1.5" fill="#a8a8a8" transform="rotate(-3 16.6 53.0)"/><rect x="19.3" y="60.6" width="11.4" height="3.0" rx="1.5" fill="#dadada" transform="rotate(73 25.0 62.1)"/><rect x="19.3" y="-9.4" width="11.4" height="3.0" rx="1.5" fill="#dadada" transform="rotate(73 25.0 -7.9)"/><rect x="43.7" y="13.3" width="5.3" height="4.4" rx="1.5" fill="#a8a8a8" transform="rotate(-18 46.3 15.5)"/><rect x="47.2" y="33.9" width="6.9" height="4.5" rx="1.5" fill="#cccccc" transform="rotate(-42 50.6 36.1)"/><rect x="-2.8" y="31.1" width="7.6" height="4.0" rx="1.5" fill="#cccccc" transform="rotate(17 1.0 33.1)"/><rect x="93.2" y="31.1" width="7.6" height="4.0" rx="1.5" fill="#cccccc" transform="rotate(17 97.0 33.1)"/><rect x="11.5" y="9.6" width="7.3" height="2.8" rx="1.5" fill="#a8a8a8" transform="rotate(3 15.1 11.0)"/><rect x="11.5" y="79.6" width="7.3" height="2.8" rx="1.5" fill="#a8a8a8" transform="rotate(3 15.1 81.0)"/><rect x="57.7" y="67.8" width="6.9" height="3.4" rx="1.5" fill="#f2f2f2" transform="rotate(43 61.1 69.5)"/><rect x="57.7" y="-2.2" width="6.9" height="3.4" rx="1.5" fill="#f2f2f2" transform="rotate(43 61.1 -0.5)"/><rect x="-5.3" y="55.5" width="10.9" height="4.1" rx="1.5" fill="#f2f2f2" transform="rotate(-37 0.1 57.5)"/><rect x="90.7" y="55.5" width="10.9" height="4.1" rx="1.5" fill="#f2f2f2" transform="rotate(-37 96.1 57.5)"/><rect x="64.6" y="5.2" width="8.4" height="3.3" rx="1.5" fill="#888" transform="rotate(14 68.8 6.8)"/><rect x="64.6" y="75.2" width="8.4" height="3.3" rx="1.5" fill="#888" transform="rotate(14 68.8 76.8)"/><rect x="77.0" y="19.7" width="10.5" height="3.2" rx="1.5" fill="#888" transform="rotate(-65 82.3 21.3)"/><rect x="74.9" y="12.9" width="8.8" height="3.4" rx="1.5" fill="#f2f2f2" transform="rotate(53 79.3 14.6)"/><rect x="27.1" y="20.3" width="5.5" height="2.9" rx="1.5" fill="#dadada" transform="rotate(34 29.9 21.8)"/><rect x="31.7" y="46.5" width="5.7" height="3.1" rx="1.5" fill="#dadada" transform="rotate(75 34.5 48.1)"/><rect x="77.1" y="44.2" width="5.1" height="3.1" rx="1.5" fill="#cccccc" transform="rotate(-42 79.7 45.8)"/><rect x="51.6" y="29.8" width="5.1" height="4.5" rx="1.5" fill="#a8a8a8" transform="rotate(-47 54.2 32.1)"/><rect x="55.3" y="18.6" width="7.6" height="3.4" rx="1.5" fill="#e6e6e6" transform="rotate(-26 59.1 20.3)"/><rect x="34.3" y="45.3" width="6.8" height="2.7" rx="1.5" fill="#cccccc" transform="rotate(-27 37.7 46.7)"/><rect x="85.7" y="37.9" width="10.1" height="3.0" rx="1.5" fill="#a8a8a8" transform="rotate(-65 90.7 39.4)"/><rect x="-10.3" y="37.9" width="10.1" height="3.0" rx="1.5" fill="#a8a8a8" transform="rotate(-65 -5.3 39.4)"/><rect x="8.6" y="4.7" width="9.7" height="3.8" rx="1.5" fill="#f2f2f2" transform="rotate(-16 13.5 6.6)"/><rect x="8.6" y="74.7" width="9.7" height="3.8" rx="1.5" fill="#f2f2f2" transform="rotate(-16 13.5 76.6)"/><rect x="77.5" y="40.1" width="5.6" height="2.7" rx="1.5" fill="#f2f2f2" transform="rotate(-60 80.3 41.5)"/><rect x="33.3" y="3.5" width="11.4" height="3.2" rx="1.5" fill="#dadada" transform="rotate(24 39.1 5.1)"/><rect x="33.3" y="73.5" width="11.4" height="3.2" rx="1.5" fill="#dadada" transform="rotate(24 39.1 75.1)"/><rect x="69.8" y="56.0" width="7.7" height="3.0" rx="1.5" fill="#e6e6e6" transform="rotate(-78 73.6 57.5)"/><rect x="32.5" y="47.0" width="11.9" height="4.0" rx="1.5" fill="#cccccc" transform="rotate(17 38.5 49.0)"/><rect x="-1.9" y="21.3" width="7.4" height="3.7" rx="1.5" fill="#f2f2f2" transform="rotate(-20 1.8 23.2)"/><rect x="94.1" y="21.3" width="7.4" height="3.7" rx="1.5" fill="#f2f2f2" transform="rotate(-20 97.8 23.2)"/><rect x="43.5" y="53.4" width="10.8" height="3.6" rx="1.5" fill="#f2f2f2" transform="rotate(43 48.9 55.2)"/><rect x="83.0" y="36.7" width="7.5" height="3.4" rx="1.5" fill="#f2f2f2" transform="rotate(34 86.7 38.4)"/><rect x="-13.0" y="36.7" width="7.5" height="3.4" rx="1.5" fill="#f2f2f2" transform="rotate(34 -9.3 38.4)"/><rect x="89.7" y="34.1" width="10.0" height="4.1" rx="1.5" fill="#f2f2f2" transform="rotate(71 94.7 36.1)"/><rect x="-6.3" y="34.1" width="10.0" height="4.1" rx="1.5" fill="#f2f2f2" transform="rotate(71 -1.3 36.1)"/><rect x="57.4" y="12.5" width="5.6" height="2.8" rx="1.5" fill="#dadada" transform="rotate(32 60.2 13.9)"/><rect x="27.8" y="63.4" width="7.5" height="3.3" rx="1.5" fill="#f2f2f2" transform="rotate(76 31.6 65.0)"/><rect x="27.8" y="-6.6" width="7.5" height="3.3" rx="1.5" fill="#f2f2f2" transform="rotate(76 31.6 -5.0)"/><rect x="8.6" y="61.5" width="8.8" height="3.5" rx="1.5" fill="#dadada" transform="rotate(-38 13.0 63.3)"/><rect x="8.6" y="-8.5" width="8.8" height="3.5" rx="1.5" fill="#dadada" transform="rotate(-38 13.0 -6.7)"/><rect x="81.9" y="67.7" width="10.7" height="3.6" rx="1.5" fill="#f2f2f2" transform="rotate(52 87.3 69.4)"/><rect x="81.9" y="-2.3" width="10.7" height="3.6" rx="1.5" fill="#f2f2f2" transform="rotate(52 87.3 -0.6)"/><rect x="-14.1" y="67.7" width="10.7" height="3.6" rx="1.5" fill="#f2f2f2" transform="rotate(52 -8.7 69.4)"/><rect x="-14.1" y="-2.3" width="10.7" height="3.6" rx="1.5" fill="#f2f2f2" transform="rotate(52 -8.7 -0.6)"/><rect x="24.4" y="61.0" width="6.7" height="3.5" rx="1.5" fill="#a8a8a8" transform="rotate(-50 27.7 62.8)"/><rect x="24.4" y="-9.0" width="6.7" height="3.5" rx="1.5" fill="#a8a8a8" transform="rotate(-50 27.7 -7.2)"/><rect x="50.0" y="4.0" width="5.2" height="2.6" rx="1.5" fill="#666" transform="rotate(70 52.6 5.3)"/><rect x="50.0" y="74.0" width="5.2" height="2.6" rx="1.5" fill="#666" transform="rotate(70 52.6 75.3)"/><rect x="58.4" y="19.6" width="9.7" height="3.9" rx="1.5" fill="#e6e6e6" transform="rotate(15 63.2 21.5)"/><rect x="74.0" y="-0.5" width="6.4" height="3.3" rx="1.5" fill="#f2f2f2" transform="rotate(-18 77.2 1.1)"/><rect x="74.0" y="69.5" width="6.4" height="3.3" rx="1.5" fill="#f2f2f2" transform="rotate(-18 77.2 71.1)"/><rect x="50.4" y="10.8" width="8.6" height="2.8" rx="1.5" fill="#dadada" transform="rotate(-27 54.7 12.2)"/><rect x="56.8" y="1.4" width="9.7" height="2.5" rx="1.5" fill="#666" transform="rotate(16 61.6 2.7)"/><rect x="56.8" y="71.4" width="9.7" height="2.5" rx="1.5" fill="#666" transform="rotate(16 61.6 72.7)"/><rect x="40.4" y="26.9" width="9.4" height="3.8" rx="1.5" fill="#cccccc" transform="rotate(40 45.1 28.8)"/><rect x="41.2" y="67.5" width="10.9" height="4.2" rx="1.5" fill="#e6e6e6" transform="rotate(-11 46.6 69.6)"/><rect x="41.2" y="-2.5" width="10.9" height="4.2" rx="1.5" fill="#e6e6e6" transform="rotate(-11 46.6 -0.4)"/><rect x="50.0" y="61.7" width="8.7" height="3.4" rx="1.5" fill="#dadada" transform="rotate(65 54.3 63.4)"/><rect x="50.0" y="-8.3" width="8.7" height="3.4" rx="1.5" fill="#dadada" transform="rotate(65 54.3 -6.6)"/><rect x="25.7" y="1.7" width="10.1" height="4.3" rx="1.5" fill="#cccccc" transform="rotate(16 30.8 3.8)"/><rect x="25.7" y="71.7" width="10.1" height="4.3" rx="1.5" fill="#cccccc" transform="rotate(16 30.8 73.8)"/><rect x="67.6" y="20.2" width="9.2" height="2.4" rx="1.5" fill="#f2f2f2" transform="rotate(-8 72.2 21.3)"/><rect x="45.6" y="25.9" width="5.4" height="3.8" rx="1.5" fill="#dadada" transform="rotate(-42 48.3 27.8)"/><rect x="26.1" y="26.5" width="6.7" height="2.4" rx="1.5" fill="#888" transform="rotate(75 29.4 27.7)"/><rect x="59.9" y="58.6" width="7.9" height="4.1" rx="1.5" fill="#e6e6e6" transform="rotate(39 63.9 60.7)"/><rect x="59.9" y="-11.4" width="7.9" height="4.1" rx="1.5" fill="#e6e6e6" transform="rotate(39 63.9 -9.3)"/><rect x="51.6" y="61.2" width="5.7" height="4.0" rx="1.5" fill="#f2f2f2" transform="rotate(6 54.4 63.2)"/><rect x="51.6" y="-8.8" width="5.7" height="4.0" rx="1.5" fill="#f2f2f2" transform="rotate(6 54.4 -6.8)"/><rect x="87.9" y="-1.4" width="6.7" height="2.9" rx="1.5" fill="#e6e6e6" transform="rotate(-70 91.3 0.0)"/><rect x="87.9" y="68.6" width="6.7" height="2.9" rx="1.5" fill="#e6e6e6" transform="rotate(-70 91.3 70.0)"/><rect x="-8.1" y="-1.4" width="6.7" height="2.9" rx="1.5" fill="#e6e6e6" transform="rotate(-70 -4.7 0.0)"/><rect x="-8.1" y="68.6" width="6.7" height="2.9" rx="1.5" fill="#e6e6e6" transform="rotate(-70 -4.7 70.0)"/><rect x="82.0" y="55.6" width="7.8" height="3.0" rx="1.5" fill="#dadada" transform="rotate(-73 85.9 57.1)"/><rect x="-14.0" y="55.6" width="7.8" height="3.0" rx="1.5" fill="#dadada" transform="rotate(-73 -10.1 57.1)"/><rect x="-0.6" y="61.2" width="7.2" height="3.3" rx="1.5" fill="#888" transform="rotate(76 3.0 62.9)"/><rect x="-0.6" y="-8.8" width="7.2" height="3.3" rx="1.5" fill="#888" transform="rotate(76 3.0 -7.1)"/><rect x="95.4" y="61.2" width="7.2" height="3.3" rx="1.5" fill="#888" transform="rotate(76 99.0 62.9)"/><rect x="95.4" y="-8.8" width="7.2" height="3.3" rx="1.5" fill="#888" transform="rotate(76 99.0 -7.1)"/><rect x="41.8" y="12.3" width="7.1" height="4.3" rx="1.5" fill="#888" transform="rotate(-49 45.4 14.5)"/><rect x="76.3" y="23.5" width="8.3" height="2.6" rx="1.5" fill="#a8a8a8" transform="rotate(79 80.4 24.8)"/><rect x="16.2" y="42.2" width="6.3" height="4.2" rx="1.5" fill="#f2f2f2" transform="rotate(-63 19.4 44.3)"/><rect x="64.0" y="19.8" width="11.3" height="4.2" rx="1.5" fill="#cccccc" transform="rotate(-58 69.7 21.9)"/><rect x="62.8" y="64.5" width="8.1" height="2.4" rx="1.5" fill="#e6e6e6" transform="rotate(-31 66.8 65.6)"/><rect x="62.8" y="-5.5" width="8.1" height="2.4" rx="1.5" fill="#e6e6e6" transform="rotate(-31 66.8 -4.4)"/><rect x="65.1" y="12.4" width="6.3" height="2.7" rx="1.5" fill="#cccccc" transform="rotate(46 68.2 13.8)"/><rect x="30.2" y="44.6" width="11.2" height="3.6" rx="1.5" fill="#e6e6e6" transform="rotate(-32 35.8 46.3)"/><rect x="85.5" y="44.9" width="6.9" height="3.7" rx="1.5" fill="#f2f2f2" transform="rotate(77 89.0 46.7)"/><rect x="-10.5" y="44.9" width="6.9" height="3.7" rx="1.5" fill="#f2f2f2" transform="rotate(77 -7.0 46.7)"/><rect x="37.9" y="35.8" width="8.7" height="2.3" rx="1.5" fill="#dadada" transform="rotate(-34 42.3 37.0)"/><rect x="21.3" y="54.8" width="5.6" height="2.9" rx="1.5" fill="#cccccc" transform="rotate(-41 24.1 56.2)"/><rect x="23.6" y="36.2" width="6.3" height="4.3" rx="1.5" fill="#666" transform="rotate(-75 26.8 38.4)"/><rect x="40.5" y="50.4" width="7.7" height="4.3" rx="1.5" fill="#dadada" transform="rotate(-51 44.3 52.5)"/></pattern>
<linearGradient id="paperg" x1="0" y1="0" x2="0" y2="1">
<stop offset="0" stop-color="#e9e9e9"/><stop offset="1" stop-color="#f0f0f0"/>
</linearGradient>
<linearGradient id="fadeDownL" x1="0" y1="0" x2="0" y2="1">
<stop offset="0" stop-color="#9ccbf3" stop-opacity="0"/><stop offset="0.45" stop-color="#8cc2f2" stop-opacity="0.6"/><stop offset="1" stop-color="#6fb1ef"/>
</linearGradient>
<linearGradient id="fadeDownR" x1="0" y1="0" x2="0" y2="1">
<stop offset="0" stop-color="#3d8fe6" stop-opacity="0"/><stop offset="0.45" stop-color="#3a8de6" stop-opacity="0.7"/><stop offset="1" stop-color="#2f84e3"/>
</linearGradient>
<linearGradient id="fadeUpL" x1="0" y1="1" x2="0" y2="0">
<stop offset="0" stop-color="#f9c49a" stop-opacity="0"/><stop offset="0.4" stop-color="#f8b27b" stop-opacity="0.6"/><stop offset="1" stop-color="#f6a15f"/>
</linearGradient>
<linearGradient id="fadeUpR" x1="0" y1="1" x2="0" y2="0">
<stop offset="0" stop-color="#f48a3a" stop-opacity="0"/><stop offset="0.4" stop-color="#f38636" stop-opacity="0.7"/><stop offset="1" stop-color="#f07d2a"/>
</linearGradient>
</defs><rect width="1600" height="1600" fill="url(#bg)"/><text x="438.5" y="143" font-family="'Liberation Sans', sans-serif" font-weight="bold" font-size="72" fill="#141414" stroke="#141414" stroke-width="0.9" textLength="726.5" lengthAdjust="spacingAndGlyphs">Jam-Proof System</text><text x="112.5" y="232.5" font-family="'Liberation Sans', sans-serif" font-size="50.5" fill="#2e3136" textLength="1390.5" lengthAdjust="spacingAndGlyphs">Overload protection with auto reverse to prevent paper jams</text><g transform="translate(0,0)"><clipPath id="pc0"><rect x="120.5" y="309.5" width="616.5" height="262.5" rx="21"/></clipPath><g clip-path="url(#pc0)"><rect x="110" y="300" width="640" height="290" fill="#4a4a4a"/><rect x="110" y="300" width="640" height="30" fill="url(#ptop)"/><g transform="translate(0,0)"><polygon points="198,411 240,358 611,358 654,411 611,464 240,464" fill="#303030" stroke="#1c1c1c" stroke-width="1.3"/><path d="M240,357.3 H611 L654.3,411 L611,464.5" fill="none" stroke="#6e6e6e" stroke-width="0.9" opacity="0.8"/><path d="M240,356.6 L196.6,411 L240,465.2" fill="none" stroke="#5e5e5e" stroke-width="0.9" opacity="0.7"/><g transform="translate(0,0)"><polygon points="236,411 277.5,361 531,361 573.5,411 531,461 277.5,461" fill="#444" stroke="#1a1a1a" stroke-width="1.1"/><path d="M236.5,411.5 L277.8,460.3 H531" fill="none" stroke="#8a8a8a" stroke-width="1"/><path d="M277.8,361.8 H531" fill="none" stroke="#6a6a6a" stroke-width="0.8"/><rect x="389" y="358.5" width="35" height="105" fill="#141414"/><rect x="393" y="360" width="22.6" height="102" rx="2.5" fill="url(#knob)"/><rect x="399.5" y="375" width="3.5" height="9" rx="1.7" fill="none" stroke="#9a9a9a" stroke-width="0.9"/></g></g><rect x="426" y="300" width="330" height="290" fill="#000" opacity="0.22"/><g transform="translate(0,0)"><polygon points="531,358 611,358 654,411 611,464 531,464 531,461 573.5,411 531,361" fill="#fff" opacity="0.035"/></g><g transform="translate(0,0)"><text x="340.2" y="496.7" font-family="'Liberation Sans', sans-serif" fill="#e8e8e8" font-size="16.5" font-weight="bold" textLength="29.3" lengthAdjust="spacingAndGlyphs">FWD</text><text x="383.7" y="497" font-family="'Liberation Sans', sans-serif" fill="#e8e8e8" font-size="16.5" font-weight="bold" textLength="36.8" lengthAdjust="spacingAndGlyphs">AUTO</text><text x="431" y="497.5" font-family="'Liberation Sans', sans-serif" fill="#e8e8e8" font-size="16.5" font-weight="bold" textLength="26" lengthAdjust="spacingAndGlyphs">OFF</text><text x="478" y="496" font-family="'Liberation Sans', sans-serif" fill="#e8e8e8" font-size="16.5" font-weight="bold" textLength="27" lengthAdjust="spacingAndGlyphs">REV</text><path d="M354.5,482.5 H369 V468 M405,468 V483 M441.5,468 V483 M479,468 V481 H493" fill="none" stroke="#e6e6e6" stroke-width="1.7"/><rect x="349" y="507" width="55" height="23.5" rx="5" fill="#1e5cff" opacity="0.4" filter="url(#blur3)"/><rect x="352" y="510" width="49" height="17.5" rx="2.5" fill="#1866f2" stroke="#0b3c9a" stroke-width="0.8"/><rect x="360" y="515" width="33" height="6" rx="3" fill="#8cc0ff" opacity="0.8" filter="url(#blur1)"/><rect x="450.5" y="510" width="48" height="17" rx="2" fill="#6e6e6e" stroke="#1e1e1e" stroke-width="1.6"/><text x="350" y="553" font-family="'Liberation Sans', sans-serif" fill="#e8e8e8" font-size="18" font-weight="bold" textLength="51.7" lengthAdjust="spacingAndGlyphs">Power</text><text x="474.5" y="550.7" font-family="'Liberation Sans', sans-serif" fill="#e8e8e8" font-size="18" font-weight="bold" textLength="74.2" lengthAdjust="spacingAndGlyphs">Overload</text><text x="474.5" y="577.5" font-family="'Liberation Sans', sans-serif" fill="#e8e8e8" font-size="18" font-weight="bold" textLength="74" lengthAdjust="spacingAndGlyphs">Overheat</text><circle cx="456.8" cy="546" r="5" fill="none" stroke="#e6e6e6" stroke-width="1.7"/><line x1="464.8" y1="546.0" x2="469.3" y2="546.0" stroke="#e6e6e6" stroke-width="1.6"/><line x1="462.5" y1="551.7" x2="465.6" y2="554.8" stroke="#e6e6e6" stroke-width="1.6"/><line x1="456.8" y1="554.0" x2="456.8" y2="558.5" stroke="#e6e6e6" stroke-width="1.6"/><line x1="451.1" y1="551.7" x2="448.0" y2="554.8" stroke="#e6e6e6" stroke-width="1.6"/><line x1="448.8" y1="546.0" x2="444.3" y2="546.0" stroke="#e6e6e6" stroke-width="1.6"/><line x1="451.1" y1="540.3" x2="448.0" y2="537.2" stroke="#e6e6e6" stroke-width="1.6"/><line x1="456.8" y1="538.0" x2="456.8" y2="533.5" stroke="#e6e6e6" stroke-width="1.6"/><line x1="462.5" y1="540.3" x2="465.6" y2="537.2" stroke="#e6e6e6" stroke-width="1.6"/><circle cx="457" cy="572.5" r="5.5" fill="none" stroke="#e6e6e6" stroke-width="1.6"/></g></g><rect x="117.75" y="306.75" width="622" height="268" rx="24" fill="none" stroke="#f77516" stroke-width="5.5"/></g><g transform="translate(741.3,0)"><clipPath id="pc741"><rect x="120.5" y="309.5" width="616.5" height="262.5" rx="21"/></clipPath><g clip-path="url(#pc741)"><rect x="110" y="300" width="640" height="290" fill="#4a4a4a"/><rect x="110" y="300" width="640" height="30" fill="url(#ptop)"/><g transform="translate(0,4)"><polygon points="198,411 240,358 611,358 654,411 611,464 240,464" fill="#303030" stroke="#1c1c1c" stroke-width="1.3"/><path d="M240,357.3 H611 L654.3,411 L611,464.5" fill="none" stroke="#6e6e6e" stroke-width="0.9" opacity="0.8"/><path d="M240,356.6 L196.6,411 L240,465.2" fill="none" stroke="#5e5e5e" stroke-width="0.9" opacity="0.7"/><g transform="translate(76.3,0)"><polygon points="236,411 277.5,361 531,361 573.5,411 531,461 277.5,461" fill="#444" stroke="#1a1a1a" stroke-width="1.1"/><path d="M236.5,411.5 L277.8,460.3 H531" fill="none" stroke="#8a8a8a" stroke-width="1"/><path d="M277.8,361.8 H531" fill="none" stroke="#6a6a6a" stroke-width="0.8"/><rect x="389" y="358.5" width="35" height="105" fill="#141414"/><rect x="393" y="360" width="22.6" height="102" rx="2.5" fill="url(#knob)"/><rect x="399.5" y="375" width="3.5" height="9" rx="1.7" fill="none" stroke="#9a9a9a" stroke-width="0.9"/></g></g><rect x="426" y="300" width="330" height="290" fill="#000" opacity="0.22"/><g transform="translate(0,4)"><text x="340.2" y="496.7" font-family="'Liberation Sans', sans-serif" fill="#e8e8e8" font-size="16.5" font-weight="bold" textLength="29.3" lengthAdjust="spacingAndGlyphs">FWD</text><text x="383.7" y="497" font-family="'Liberation Sans', sans-serif" fill="#e8e8e8" font-size="16.5" font-weight="bold" textLength="36.8" lengthAdjust="spacingAndGlyphs">AUTO</text><text x="431" y="497.5" font-family="'Liberation Sans', sans-serif" fill="#e8e8e8" font-size="16.5" font-weight="bold" textLength="26" lengthAdjust="spacingAndGlyphs">OFF</text><text x="478" y="496" font-family="'Liberation Sans', sans-serif" fill="#e8e8e8" font-size="16.5" font-weight="bold" textLength="27" lengthAdjust="spacingAndGlyphs">REV</text><path d="M354.5,482.5 H369 V468 M405,468 V483 M441.5,468 V483 M479,468 V481 H493" fill="none" stroke="#e6e6e6" stroke-width="1.7"/><rect x="349" y="507" width="55" height="23.5" rx="5" fill="#1e5cff" opacity="0.4" filter="url(#blur3)"/><rect x="352" y="510" width="49" height="17.5" rx="2.5" fill="#1866f2" stroke="#0b3c9a" stroke-width="0.8"/><rect x="360" y="515" width="33" height="6" rx="3" fill="#8cc0ff" opacity="0.8" filter="url(#blur1)"/><rect x="447" y="507" width="55" height="23.5" rx="5" fill="#ff2020" opacity="0.4" filter="url(#blur3)"/><rect x="450.5" y="510" width="48" height="17.5" rx="2.5" fill="#e0232b" stroke="#8a1010" stroke-width="0.8"/><rect x="458" y="515" width="33" height="6" rx="3" fill="#ffa0a0" opacity="0.8" filter="url(#blur1)"/><text x="350" y="553" font-family="'Liberation Sans', sans-serif" fill="#e8e8e8" font-size="18" font-weight="bold" textLength="51.7" lengthAdjust="spacingAndGlyphs">Power</text><text x="474.5" y="550.7" font-family="'Liberation Sans', sans-serif" fill="#e8e8e8" font-size="18" font-weight="bold" textLength="74.2" lengthAdjust="spacingAndGlyphs">Overload</text><text x="474.5" y="577.5" font-family="'Liberation Sans', sans-serif" fill="#e8e8e8" font-size="18" font-weight="bold" textLength="74" lengthAdjust="spacingAndGlyphs">Overheat</text><circle cx="456.8" cy="546" r="5" fill="none" stroke="#e6e6e6" stroke-width="1.7"/><line x1="464.8" y1="546.0" x2="469.3" y2="546.0" stroke="#e6e6e6" stroke-width="1.6"/><line x1="462.5" y1="551.7" x2="465.6" y2="554.8" stroke="#e6e6e6" stroke-width="1.6"/><line x1="456.8" y1="554.0" x2="456.8" y2="558.5" stroke="#e6e6e6" stroke-width="1.6"/><line x1="451.1" y1="551.7" x2="448.0" y2="554.8" stroke="#e6e6e6" stroke-width="1.6"/><line x1="448.8" y1="546.0" x2="444.3" y2="546.0" stroke="#e6e6e6" stroke-width="1.6"/><line x1="451.1" y1="540.3" x2="448.0" y2="537.2" stroke="#e6e6e6" stroke-width="1.6"/><line x1="456.8" y1="538.0" x2="456.8" y2="533.5" stroke="#e6e6e6" stroke-width="1.6"/><line x1="462.5" y1="540.3" x2="465.6" y2="537.2" stroke="#e6e6e6" stroke-width="1.6"/><circle cx="457" cy="572.5" r="5.5" fill="none" stroke="#e6e6e6" stroke-width="1.6"/></g></g><rect x="117.75" y="306.75" width="622" height="268" rx="24" fill="none" stroke="#f77516" stroke-width="5.5"/></g><text x="332" y="627" font-family="'Liberation Sans', sans-serif" font-size="47.5" fill="#4b97de" textLength="246.7" lengthAdjust="spacingAndGlyphs">Auto Start</text><text x="989.5" y="627" font-family="'Liberation Sans', sans-serif" font-size="48" fill="#f07b23" textLength="383.4" lengthAdjust="spacingAndGlyphs">Manual Reverse</text><path d="M249.0,711.3 A99,99 0 0 1 395.6,684.5 L402.5,677 L421.3,723.8 L370.6,715 L380.1,704.1 A74,74 0 0 0 271.6,722.2 Z" fill="url(#gblue)"/><path d="M273.0,684.0 A99,99 0 0 1 395.6,684.5 L402.5,677 L421.3,723.8 L388.2,693.9 A87,87 0 0 0 280.4,693.4 Z" fill="url(#hlblue)"/><g transform="translate(849.8,0) scale(-1,1)"><path d="M249.0,711.3 A99,99 0 0 1 395.6,684.5 L402.5,677 L421.3,723.8 L370.6,715 L380.1,704.1 A74,74 0 0 0 271.6,722.2 Z" fill="url(#gblue)"/><path d="M273.0,684.0 A99,99 0 0 1 395.6,684.5 L402.5,677 L421.3,723.8 L388.2,693.9 A87,87 0 0 0 280.4,693.4 Z" fill="url(#hlblue)"/></g><g transform="translate(1424.75,13.5) scale(-1,1)"><path d="M249.0,711.3 A99,99 0 0 1 395.6,684.5 L402.5,677 L421.3,723.8 L370.6,715 L380.1,704.1 A74,74 0 0 0 271.6,722.2 Z" fill="url(#gorange)"/><path d="M273.0,684.0 A99,99 0 0 1 395.6,684.5 L402.5,677 L421.3,723.8 L388.2,693.9 A87,87 0 0 0 280.4,693.4 Z" fill="url(#hlorange)"/></g><g transform="translate(934,13.5)"><path d="M249.0,711.3 A99,99 0 0 1 395.6,684.5 L402.5,677 L421.3,723.8 L370.6,715 L380.1,704.1 A74,74 0 0 0 271.6,722.2 Z" fill="url(#gorange)"/><path d="M273.0,684.0 A99,99 0 0 1 395.6,684.5 L402.5,677 L421.3,723.8 L388.2,693.9 A87,87 0 0 0 280.4,693.4 Z" fill="url(#hlorange)"/></g><path d="M404.10,797.20 L421.30,797.20 L421.30,818.20 L404.10,818.20 L400.33,832.26 L415.23,840.86 L404.73,859.04 L389.83,850.44 L379.54,860.73 L388.14,875.63 L369.96,886.13 L361.36,871.23 L347.30,875.00 L347.30,892.20 L326.30,892.20 L326.30,875.00 L312.24,871.23 L303.64,886.13 L285.46,875.63 L294.06,860.73 L283.77,850.44 L268.87,859.04 L258.37,840.86 L273.27,832.26 L269.50,818.20 L252.30,818.20 L252.30,797.20 L269.50,797.20 L273.27,783.14 L258.37,774.54 L268.87,756.36 L283.77,764.96 L294.06,754.67 L285.46,739.77 L303.64,729.27 L312.24,744.17 L326.30,740.40 L326.30,723.20 L347.30,723.20 L347.30,740.40 L361.36,744.17 L369.96,729.27 L388.14,739.77 L379.54,754.67 L389.83,764.96 L404.73,756.36 L415.23,774.54 L400.33,783.14 Z" fill="#fff" stroke="#161616" stroke-width="2.3" stroke-linejoin="miter"/><circle cx="336.8" cy="807.7" r="37.3" fill="none" stroke="#161616" stroke-width="2.3"/><path d="M575.72,815.28 L592.34,819.73 L586.90,840.01 L570.29,835.56 L563.01,848.16 L575.18,860.33 L560.33,875.18 L548.16,863.01 L535.56,870.29 L540.01,886.90 L519.73,892.34 L515.28,875.72 L500.72,875.72 L496.27,892.34 L475.99,886.90 L480.44,870.29 L467.84,863.01 L455.67,875.18 L440.82,860.33 L452.99,848.16 L445.71,835.56 L429.10,840.01 L423.66,819.73 L440.28,815.28 L440.28,800.72 L423.66,796.27 L429.10,775.99 L445.71,780.44 L452.99,767.84 L440.82,755.67 L455.67,740.82 L467.84,752.99 L480.44,745.71 L475.99,729.10 L496.27,723.66 L500.72,740.28 L515.28,740.28 L519.73,723.66 L540.01,729.10 L535.56,745.71 L548.16,752.99 L560.33,740.82 L575.18,755.67 L563.01,767.84 L570.29,780.44 L586.90,775.99 L592.34,796.27 L575.72,800.72 Z" fill="#fff" stroke="#161616" stroke-width="2.3" stroke-linejoin="miter"/><circle cx="508" cy="808" r="37.3" fill="none" stroke="#161616" stroke-width="2.3"/><path d="M1158.30,798.00 L1175.50,798.00 L1175.50,819.00 L1158.30,819.00 L1154.53,833.06 L1169.43,841.66 L1158.93,859.84 L1144.03,851.24 L1133.74,861.53 L1142.34,876.43 L1124.16,886.93 L1115.56,872.03 L1101.50,875.80 L1101.50,893.00 L1080.50,893.00 L1080.50,875.80 L1066.44,872.03 L1057.84,886.93 L1039.66,876.43 L1048.26,861.53 L1037.97,851.24 L1023.07,859.84 L1012.57,841.66 L1027.47,833.06 L1023.70,819.00 L1006.50,819.00 L1006.50,798.00 L1023.70,798.00 L1027.47,783.94 L1012.57,775.34 L1023.07,757.16 L1037.97,765.76 L1048.26,755.47 L1039.66,740.57 L1057.84,730.07 L1066.44,744.97 L1080.50,741.20 L1080.50,724.00 L1101.50,724.00 L1101.50,741.20 L1115.56,744.97 L1124.16,730.07 L1142.34,740.57 L1133.74,755.47 L1144.03,765.76 L1158.93,757.16 L1169.43,775.34 L1154.53,783.94 Z" fill="#fff" stroke="#161616" stroke-width="2.3" stroke-linejoin="miter"/><circle cx="1091" cy="808.5" r="37.3" fill="none" stroke="#161616" stroke-width="2.3"/><path d="M1329.72,815.78 L1346.34,820.23 L1340.90,840.51 L1324.29,836.06 L1317.01,848.66 L1329.18,860.83 L1314.33,875.68 L1302.16,863.51 L1289.56,870.79 L1294.01,887.40 L1273.73,892.84 L1269.28,876.22 L1254.72,876.22 L1250.27,892.84 L1229.99,887.40 L1234.44,870.79 L1221.84,863.51 L1209.67,875.68 L1194.82,860.83 L1206.99,848.66 L1199.71,836.06 L1183.10,840.51 L1177.66,820.23 L1194.28,815.78 L1194.28,801.22 L1177.66,796.77 L1183.10,776.49 L1199.71,780.94 L1206.99,768.34 L1194.82,756.17 L1209.67,741.32 L1221.84,753.49 L1234.44,746.21 L1229.99,729.60 L1250.27,724.16 L1254.72,740.78 L1269.28,740.78 L1273.73,724.16 L1294.01,729.60 L1289.56,746.21 L1302.16,753.49 L1314.33,741.32 L1329.18,756.17 L1317.01,768.34 L1324.29,780.94 L1340.90,776.49 L1346.34,796.77 L1329.72,801.22 Z" fill="#fff" stroke="#161616" stroke-width="2.3" stroke-linejoin="miter"/><circle cx="1262" cy="808.5" r="37.3" fill="none" stroke="#161616" stroke-width="2.3"/><g transform="translate(0,0)"><rect x="205" y="908" width="447" height="260" fill="url(#paperg)"/><g transform="translate(205,908)"><text x="27" y="41" font-family="'Liberation Sans', sans-serif" font-size="4.5" fill="#2a2a2a">Form</text><text x="44" y="40.5" font-family="'Liberation Sans', sans-serif" font-size="14.5" font-weight="bold" textLength="43.6" lengthAdjust="spacingAndGlyphs" fill="#1a1a1a">W-8BEN</text><text x="26" y="49.5" font-family="'Liberation Sans', sans-serif" font-size="5.2" textLength="50" lengthAdjust="spacingAndGlyphs" fill="#2a2a2a">(Rev. February 2006)</text><text x="26" y="58.5" font-family="'Liberation Sans', sans-serif" font-size="5" textLength="61" lengthAdjust="spacingAndGlyphs" fill="#2a2a2a">Department of the Treasury</text><text x="26" y="64.5" font-family="'Liberation Sans', sans-serif" font-size="5" textLength="56" lengthAdjust="spacingAndGlyphs" fill="#2a2a2a">Internal Revenue Service</text><line x1="91.5" y1="30" x2="91.5" y2="64.5" stroke="#444" stroke-width="1.0"/><text x="108.6" y="39" font-family="'Liberation Sans', sans-serif" font-size="11.2" font-weight="bold" textLength="231.9" lengthAdjust="spacingAndGlyphs" fill="#1a1a1a">Certificate of Foreign Status of Beneficial Owner</text><text x="144" y="49.5" font-family="'Liberation Sans', sans-serif" font-size="11.2" font-weight="bold" textLength="161.4" lengthAdjust="spacingAndGlyphs" fill="#1a1a1a">for United States Tax Withholding</text><text x="99" y="57.2" font-family="'Liberation Sans', sans-serif" font-size="5.9" font-weight="bold" textLength="250.5" lengthAdjust="spacingAndGlyphs" fill="#222">► Section references are to the Internal Revenue Code.   ► See separate instructions.</text><text x="115.5" y="64.8" font-family="'Liberation Sans', sans-serif" font-size="5.9" font-weight="bold" textLength="217.5" lengthAdjust="spacingAndGlyphs" fill="#222">► Give this form to the withholding agent or payer. Do not send to the IRS.</text><line x1="357" y1="30" x2="357" y2="64.5" stroke="#444" stroke-width="1.0"/><text x="364.5" y="50.5" font-family="'Liberation Sans', sans-serif" font-size="5" textLength="49.5" lengthAdjust="spacingAndGlyphs" fill="#2a2a2a">OMB No. 1545-1621</text><line x1="26.4" y1="66.6" x2="422.6" y2="66.6" stroke="#333" stroke-width="1.4"/><text x="26.6" y="74.2" font-family="'Liberation Sans', sans-serif" font-size="5.8" font-weight="bold" textLength="63" lengthAdjust="spacingAndGlyphs" fill="#1e1e1e">Do not use this form for:</text><text x="422.6" y="74.2" font-family="'Liberation Sans', sans-serif" font-size="5.8" font-weight="bold" text-anchor="end" fill="#1e1e1e">Instead, use Form:</text><text x="32.8" y="81.5" font-family="'Liberation Sans', sans-serif" font-size="6.1" textLength="193" lengthAdjust="spacingAndGlyphs" fill="#2a2a2a">A U.S. citizen or other U.S. person, including a resident alien individual</text><circle cx="29" cy="79.5" r="1.2" fill="#222"/><text x="422.6" y="81.5" font-family="'Liberation Sans', sans-serif" font-size="6.1" text-anchor="end" fill="#2a2a2a">W-9</text><line x1="231.8" y1="80.3" x2="408.40000000000003" y2="80.3" stroke="#555" stroke-width="1.1" stroke-dasharray="1.1,7.800000000000001"/><text x="32.8" y="88.9" font-family="'Liberation Sans', sans-serif" font-size="6.1" textLength="196.2" lengthAdjust="spacingAndGlyphs" fill="#2a2a2a">A person claiming that income is effectively connected with the conduct</text><circle cx="29" cy="86.9" r="1.2" fill="#222"/><text x="32.8" y="95.0" font-family="'Liberation Sans', sans-serif" font-size="6.1" textLength="114.8" lengthAdjust="spacingAndGlyphs" fill="#2a2a2a">of a trade or business in the United States</text><text x="422.6" y="95.0" font-family="'Liberation Sans', sans-serif" font-size="6.1" text-anchor="end" fill="#2a2a2a">W-8ECI</text><line x1="153.6" y1="93.8" x2="398.20000000000005" y2="93.8" stroke="#555" stroke-width="1.1" stroke-dasharray="1.1,7.800000000000001"/><text x="32.8" y="103" font-family="'Liberation Sans', sans-serif" font-size="6.1" textLength="276" lengthAdjust="spacingAndGlyphs" fill="#2a2a2a">A foreign partnership, a foreign simple trust, or a foreign grantor trust (see instructions for exceptions)</text><circle cx="29" cy="101" r="1.2" fill="#222"/><text x="422.6" y="103" font-family="'Liberation Sans', sans-serif" font-size="6.1" text-anchor="end" fill="#2a2a2a">W-8ECI or W-8IMY</text><line x1="314.8" y1="101.8" x2="364.20000000000005" y2="101.8" stroke="#555" stroke-width="1.1" stroke-dasharray="1.1,7.800000000000001"/><text x="32.8" y="110" font-family="'Liberation Sans', sans-serif" font-size="6.1" textLength="292" lengthAdjust="spacingAndGlyphs" fill="#2a2a2a">A foreign government, international organization, foreign central bank of issue, foreign tax-exempt organization,</text><circle cx="29" cy="108" r="1.2" fill="#222"/><text x="32.8" y="116.7" font-family="'Liberation Sans', sans-serif" font-size="6.1" textLength="300" lengthAdjust="spacingAndGlyphs" fill="#2a2a2a">foreign private foundation, or government of a U.S. possession that received effectively connected income or that is</text><text x="32.8" y="123" font-family="'Liberation Sans', sans-serif" font-size="6.1" textLength="255" lengthAdjust="spacingAndGlyphs" fill="#2a2a2a">claiming the applicability of section(s) 115(2), 501(c), 892, 895, or 1443(b) (see instructions)</text><text x="422.6" y="123" font-family="'Liberation Sans', sans-serif" font-size="6.1" text-anchor="end" fill="#2a2a2a">W-8ECI or W-8EXP</text><line x1="293.8" y1="121.8" x2="364.20000000000005" y2="121.8" stroke="#555" stroke-width="1.1" stroke-dasharray="1.1,7.800000000000001"/><text x="32.8" y="144.8" font-family="'Liberation Sans', sans-serif" font-size="6.1" textLength="92" lengthAdjust="spacingAndGlyphs" fill="#2a2a2a">A person acting as an intermediary</text><circle cx="29" cy="142.8" r="1.2" fill="#222"/><text x="422.6" y="144.8" font-family="'Liberation Sans', sans-serif" font-size="6.1" text-anchor="end" fill="#2a2a2a">W-8IMY</text><line x1="130.8" y1="143.60000000000002" x2="398.20000000000005" y2="143.60000000000002" stroke="#555" stroke-width="1.1" stroke-dasharray="1.1,7.800000000000001"/><text x="26.6" y="130.8" font-family="'Liberation Sans', sans-serif" font-size="6.1" font-weight="bold" fill="#2a2a2a">Note:</text><text x="44" y="130.8" font-family="'Liberation Sans', sans-serif" font-size="6.1" font-style="italic" textLength="279" lengthAdjust="spacingAndGlyphs" fill="#2a2a2a">These entities should use Form W-8BEN if they are claiming treaty benefits or are providing the form only to</text><text x="26.6" y="137" font-family="'Liberation Sans', sans-serif" font-size="6.1" font-style="italic" textLength="168" lengthAdjust="spacingAndGlyphs" fill="#2a2a2a">claim they are a foreign person exempt from backup withholding.</text><text x="26.6" y="152.3" font-family="'Liberation Sans', sans-serif" font-size="6.1" font-weight="bold" fill="#2a2a2a">Note:</text><text x="44" y="152.3" font-family="'Liberation Sans', sans-serif" font-size="6.1" font-style="italic" textLength="112" lengthAdjust="spacingAndGlyphs" fill="#2a2a2a">See instructions for additional exceptions.</text><line x1="26.4" y1="156.8" x2="422.6" y2="156.8" stroke="#333" stroke-width="1.4"/><rect x="27" y="157.5" width="24.6" height="8.1" fill="#111"/><text x="29" y="164.2" font-family="'Liberation Sans', sans-serif" font-size="6.8" font-weight="bold" textLength="19" lengthAdjust="spacingAndGlyphs" fill="#fff">Part I</text><text x="67.5" y="164.6" font-family="'Liberation Sans', sans-serif" font-size="7.2" font-weight="bold" textLength="121" lengthAdjust="spacingAndGlyphs" fill="#1e1e1e">Identification of Beneficial Owner</text><text x="191.5" y="164.6" font-family="'Liberation Sans', sans-serif" font-size="6.3" textLength="53" lengthAdjust="spacingAndGlyphs" fill="#2a2a2a">(See instructions.)</text><line x1="26.4" y1="165.8" x2="422.6" y2="165.8" stroke="#444" stroke-width="0.9"/><text x="32.5" y="173" font-family="'Liberation Sans', sans-serif" font-size="5.5" font-weight="bold" fill="#2a2a2a">1</text><text x="43" y="173" font-family="'Liberation Sans', sans-serif" font-size="6.1" textLength="168" lengthAdjust="spacingAndGlyphs" fill="#2a2a2a">Name of individual or organization that is the beneficial owner</text><line x1="298" y1="165.8" x2="298" y2="184" stroke="#444" stroke-width="0.9"/><text x="301" y="173" font-family="'Liberation Sans', sans-serif" font-size="5.5" font-weight="bold" fill="#2a2a2a">2</text><text x="310" y="173" font-family="'Liberation Sans', sans-serif" font-size="6.1" textLength="112" lengthAdjust="spacingAndGlyphs" fill="#2a2a2a">Country of incorporation or organization</text><line x1="26.4" y1="184" x2="422.6" y2="184" stroke="#444" stroke-width="0.9"/><text x="32.5" y="191" font-family="'Liberation Sans', sans-serif" font-size="5.5" font-weight="bold" fill="#2a2a2a">3</text><text x="43" y="191" font-family="'Liberation Sans', sans-serif" font-size="6.1" textLength="69" lengthAdjust="spacingAndGlyphs" fill="#2a2a2a">Type of beneficial owner:</text><rect x="121" y="185.5" width="5.2" height="5.2" fill="none" stroke="#444" stroke-width="0.7"/><text x="130" y="191.5" font-family="'Liberation Sans', sans-serif" font-size="5.2" fill="#2a2a2a">Individual</text><rect x="197" y="185.5" width="5.2" height="5.2" fill="none" stroke="#444" stroke-width="0.7"/><text x="206" y="191.5" font-family="'Liberation Sans', sans-serif" font-size="5.2" fill="#2a2a2a">Corporation</text><rect x="252" y="185.5" width="5.2" height="5.2" fill="none" stroke="#444" stroke-width="0.7"/><text x="261" y="191.5" font-family="'Liberation Sans', sans-serif" font-size="5.2" fill="#2a2a2a">Disregarded entity</text><rect x="317" y="185.5" width="5.2" height="5.2" fill="none" stroke="#444" stroke-width="0.7"/><text x="326" y="191.5" font-family="'Liberation Sans', sans-serif" font-size="5.2" fill="#2a2a2a">Partnership</text><rect x="372" y="185.5" width="5.2" height="5.2" fill="none" stroke="#444" stroke-width="0.7"/><text x="381" y="191.5" font-family="'Liberation Sans', sans-serif" font-size="5.2" fill="#2a2a2a">Simple trust</text><rect x="46" y="195.5" width="5.2" height="5.2" fill="none" stroke="#444" stroke-width="0.7"/><text x="55" y="201.5" font-family="'Liberation Sans', sans-serif" font-size="5.2" fill="#2a2a2a">Grantor trust</text><rect x="121" y="195.5" width="5.2" height="5.2" fill="none" stroke="#444" stroke-width="0.7"/><text x="130" y="201.5" font-family="'Liberation Sans', sans-serif" font-size="5.2" fill="#2a2a2a">Complex trust</text><rect x="197" y="195.5" width="5.2" height="5.2" fill="none" stroke="#444" stroke-width="0.7"/><text x="206" y="201.5" font-family="'Liberation Sans', sans-serif" font-size="5.2" fill="#2a2a2a">Estate</text><rect x="252" y="195.5" width="5.2" height="5.2" fill="none" stroke="#444" stroke-width="0.7"/><text x="261" y="201.5" font-family="'Liberation Sans', sans-serif" font-size="5.2" fill="#2a2a2a">Government</text><rect x="317" y="194.8" width="5.2" height="5.2" fill="none" stroke="#444" stroke-width="0.7"/><text x="326" y="200.8" font-family="'Liberation Sans', sans-serif" font-size="5.2" fill="#2a2a2a">International organization</text><rect x="46" y="203" width="5.2" height="5.2" fill="none" stroke="#444" stroke-width="0.7"/><text x="55" y="209" font-family="'Liberation Sans', sans-serif" font-size="5.2" fill="#2a2a2a">Central bank of issue</text><rect x="121" y="203" width="5.2" height="5.2" fill="none" stroke="#444" stroke-width="0.7"/><text x="130" y="209" font-family="'Liberation Sans', sans-serif" font-size="5.2" fill="#2a2a2a">Tax-exempt organization</text><rect x="197" y="203" width="5.2" height="5.2" fill="none" stroke="#444" stroke-width="0.7"/><text x="206" y="209" font-family="'Liberation Sans', sans-serif" font-size="5.2" fill="#2a2a2a">Private foundation</text><line x1="26.4" y1="211.6" x2="422.6" y2="211.6" stroke="#444" stroke-width="0.9"/><text x="32.5" y="217.6" font-family="'Liberation Sans', sans-serif" font-size="5.5" font-weight="bold" fill="#2a2a2a">4</text><text x="43" y="217.6" font-family="'Liberation Sans', sans-serif" font-size="6.1" textLength="187" lengthAdjust="spacingAndGlyphs" fill="#2a2a2a">Permanent residence address (street, apt. or suite no., or rural route).</text><text x="232" y="217.6" font-family="'Liberation Sans', sans-serif" font-size="6.1" font-weight="bold" textLength="127" lengthAdjust="spacingAndGlyphs" fill="#1a1a1a">Do not use a P.O. box or in-care-of address.</text><line x1="26.4" y1="229.5" x2="422.6" y2="229.5" stroke="#444" stroke-width="0.9"/><text x="43" y="236" font-family="'Liberation Sans', sans-serif" font-size="6.1" textLength="190" lengthAdjust="spacingAndGlyphs" fill="#2a2a2a">City or town, state or province. Include postal code where appropriate.</text><line x1="330" y1="229.5" x2="330" y2="247.5" stroke="#444" stroke-width="0.9"/><text x="335.4" y="236" font-family="'Liberation Sans', sans-serif" font-size="6.1" textLength="75" lengthAdjust="spacingAndGlyphs" fill="#2a2a2a">Country (do not abbreviate)</text><line x1="26.4" y1="247.5" x2="422.6" y2="247.5" stroke="#444" stroke-width="0.9"/></g></g><path d="M312.75,975 L322.5,975 L322.5,1073 L303.0,1043 L312.75,1043 Z" fill="url(#fadeDownL)" opacity="0.9"/><path d="M322.5,975 L332.25,975 L332.25,1043 L342.0,1043 L322.5,1073 Z" fill="url(#fadeDownR)" opacity="0.9"/><path d="M415.0,975 L428.5,975 L428.5,1119.5 L401.5,1077.5 L415.0,1077.5 Z" fill="url(#fadeDownL)" opacity="0.9"/><path d="M428.5,975 L442.0,975 L442.0,1077.5 L455.5,1077.5 L428.5,1119.5 Z" fill="url(#fadeDownR)" opacity="0.9"/><path d="M522.3,975 L532,975 L532,1073 L512,1042.6 L522.3,1042.6 Z" fill="url(#fadeDownL)" opacity="0.9"/><path d="M532,975 L541.7,975 L541.7,1042.6 L552,1042.6 L532,1073 Z" fill="url(#fadeDownR)" opacity="0.9"/><clipPath id="silL"><path d="M82.5,1600 L83.5,1225 C84,1205 86,1192 100.9,1180 L135.6,1152.8 C141,1147 146,1141 152.5,1140.2 L205,1132 L205,1158.5 L428.5,1140.5 L652,1158.5 L652,1132 L705.5,1140.2 C712,1141 717,1147 722.4,1152.8 L757.1,1180 C772,1192 774,1205 774.5,1225 L775.5,1600 Z"/></clipPath><path d="M82.5,1600 L83.5,1225 C84,1205 86,1192 100.9,1180 L135.6,1152.8 C141,1147 146,1141 152.5,1140.2 L205,1132 L205,1158.5 L428.5,1140.5 L652,1158.5 L652,1132 L705.5,1140.2 C712,1141 717,1147 722.4,1152.8 L757.1,1180 C772,1192 774,1205 774.5,1225 L775.5,1600 Z" fill="#3b3b3b"/><g clip-path="url(#silL)"><rect x="80" y="1125" width="700" height="200" fill="url(#roof)"/><rect x="80" y="1125" width="700" height="200" fill="url(#roof2)" mask="url(#rmask)"/><path d="M60,1600 L60,1130 L152,1130 L128,1166.9 C124.5,1180 122.5,1195 122.5,1214 L122.5,1600 Z" fill="url(#sideV)"/><path d="M60,1600 L60,1130 L152,1130 L128,1166.9 C124.5,1180 122.5,1195 122.5,1214 L122.5,1600 Z" fill="url(#sideL)" opacity="0.5"/><path d="M800,1600 L800,1130 L706,1130 L730,1166.9 C733.5,1180 735.5,1195 735.5,1214 L735.5,1600 Z" fill="url(#sideVR)"/><path d="M800,1600 L800,1130 L706,1130 L730,1166.9 C733.5,1180 735.5,1195 735.5,1214 L735.5,1600 Z" fill="url(#sideR)" opacity="0.5"/><path d="M154.8,1173.4 L163.7,1157.5 L169.3,1155 L205,1152.3 L205,1158.9 L173,1162 L166.5,1173.4 Z" fill="#6e6e6e"/><path d="M169.3,1155 L205,1152.3 L205,1155.5 L171,1158 Z" fill="#2a2a2a" opacity="0.8"/><path d="M703.2,1173.4 L694.3,1157.5 L688.7,1155 L652,1152.3 L652,1158.9 L685,1162 L691.5,1173.4 Z" fill="#808080"/><path d="M688.7,1155 L652,1152.3 L652,1155.5 L687,1158 Z" fill="#2a2a2a" opacity="0.8"/><line x1="428.5" y1="1140" x2="428.5" y2="1173" stroke="#888" stroke-width="1" opacity="0.5"/><path d="M205,1158.5 L428.5,1140.5 L652,1158.5" fill="none" stroke="#222" stroke-width="1.3" opacity="0.7"/><path d="M324.5,1325 V1250 C324.5,1210 372,1190 428.5,1172.5 V1325 Z" fill="#151515"/><path d="M533,1325 V1250 C533,1210 485,1190 428.5,1172.5 V1325 Z" fill="#2a2a2a"/><path d="M324.5,1260 V1250 C324.5,1210 372,1190 428.5,1172.5 C485,1190 533,1210 533,1250 V1260" fill="none" stroke="#8a8a8a" stroke-opacity="0.45" stroke-width="1.2"/><rect x="60" y="1325" width="740" height="280" fill="url(#binH)"/><rect x="60" y="1325" width="62.5" height="280" fill="#3d3d3e"/><rect x="736" y="1325" width="60" height="280" fill="#39393a"/><line x1="60" y1="1324.5" x2="800" y2="1324.5" stroke="#1a1a1a" stroke-width="1.6"/><line x1="60" y1="1326.3" x2="800" y2="1326.3" stroke="#5a5a5a" stroke-width="0.8" opacity="0.6"/></g><rect x="322" y="1385" width="212.5" height="220" fill="#2b2b2b"/><rect x="325" y="1385" width="1.2" height="220" fill="#555"/><rect x="336" y="1385" width="92.8" height="220" fill="url(#winL)"/><rect x="428.8" y="1385" width="92.6" height="220" fill="url(#winR)"/><rect x="521.4" y="1385" width="13.1" height="220" fill="url(#frameR)"/><rect x="259" y="1327.3" width="339.6" height="58.2" fill="url(#handle)"/><rect x="259" y="1327.3" width="22.6" height="58.2" fill="url(#capL)"/><rect x="577.2" y="1327.3" width="21.4" height="58.2" fill="url(#capR)"/><line x1="259" y1="1384.8" x2="598.6" y2="1384.8" stroke="#d8d8d8" stroke-width="1.2"/><line x1="259" y1="1327.8" x2="598.6" y2="1327.8" stroke="#777" stroke-width="1"/><path d="M336,1605 L336.0,1518.2 L342.2,1515.7 L348.4,1518.2 L354.5,1511.9 L360.7,1509.9 L366.9,1509.2 L373.1,1509.7 L379.3,1509.9 L385.4,1502.0 L391.6,1500.9 L397.8,1499.4 L404.0,1499.0 L410.2,1496.0 L416.3,1499.7 L422.5,1499.3 L428.7,1500.7 L434.9,1495.1 L441.1,1500.1 L447.2,1499.5 L453.4,1500.7 L459.6,1499.3 L465.8,1496.8 L472.0,1497.6 L478.1,1501.5 L484.3,1497.5 L490.5,1497.8 L496.7,1498.0 L502.9,1501.7 L509.0,1501.6 L515.2,1502.5 L521.4,1502.9 L521.4,1605 Z" fill="url(#shredpat)"/><rect x="336" y="1386" width="92.8" height="220" fill="#000" opacity="0.16"/><path d="M395.4,1455.2 a2.6,1.8 0 0 1 5.3,0" fill="none" stroke="#8a8a8a" stroke-width="1.5" transform="rotate(357 398.0 1455.2)"/><path d="M401.9,1413.5 a3.1,2.2 0 0 1 6.2,0" fill="none" stroke="#7a7a7a" stroke-width="1.5" transform="rotate(318 405.0 1413.5)"/><path d="M453.8,1456.5 a3.1,2.2 0 0 1 6.2,0" fill="none" stroke="#8a8a8a" stroke-width="1.5" transform="rotate(344 456.9 1456.5)"/><path d="M462.4,1462.9 a2.1,1.5 0 0 1 4.3,0" fill="none" stroke="#5a5a5a" stroke-width="1.5" transform="rotate(328 464.5 1462.9)"/><path d="M387.2,1401.6 a2.4,1.7 0 0 1 4.9,0" fill="none" stroke="#6a6a6a" stroke-width="1.5" transform="rotate(260 389.6 1401.6)"/><path d="M451.4,1434.4 a2.4,1.7 0 0 1 4.7,0" fill="none" stroke="#5a5a5a" stroke-width="1.5" transform="rotate(313 453.8 1434.4)"/><path d="M388.5,1486.5 a2.8,2.0 0 0 1 5.6,0" fill="none" stroke="#5a5a5a" stroke-width="1.5" transform="rotate(223 391.3 1486.5)"/><path d="M408.8,1398.7 a2.0,1.4 0 0 1 4.0,0" fill="none" stroke="#5a5a5a" stroke-width="1.5" transform="rotate(313 410.8 1398.7)"/><path d="M413.7,1473.6 a2.2,1.5 0 0 1 4.4,0" fill="none" stroke="#7a7a7a" stroke-width="1.5" transform="rotate(349 415.9 1473.6)"/><path d="M401.3,1393.1 a2.6,1.8 0 0 1 5.2,0" fill="none" stroke="#8a8a8a" stroke-width="1.5" transform="rotate(72 403.9 1393.1)"/><path d="M495.1,1404.2 a2.5,1.7 0 0 1 5.0,0" fill="none" stroke="#5a5a5a" stroke-width="1.5" transform="rotate(6 497.6 1404.2)"/><path d="M470.7,1487.5 a2.2,1.5 0 0 1 4.4,0" fill="none" stroke="#8a8a8a" stroke-width="1.5" transform="rotate(247 472.9 1487.5)"/><path d="M353.5,1470.1 a2.4,1.7 0 0 1 4.9,0" fill="none" stroke="#6a6a6a" stroke-width="1.5" transform="rotate(323 355.9 1470.1)"/><path d="M407.5,1407.1 a2.5,1.7 0 0 1 5.0,0" fill="none" stroke="#8a8a8a" stroke-width="1.5" transform="rotate(225 410.0 1407.1)"/><path d="M499.2,1427.5 a2.0,1.4 0 0 1 4.0,0" fill="none" stroke="#6a6a6a" stroke-width="1.5" transform="rotate(153 501.3 1427.5)"/><path d="M356.8,1421.2 a2.5,1.7 0 0 1 5.0,0" fill="none" stroke="#7a7a7a" stroke-width="1.5" transform="rotate(356 359.3 1421.2)"/><path d="M429.3,1489.6 a2.1,1.5 0 0 1 4.2,0" fill="none" stroke="#7a7a7a" stroke-width="1.5" transform="rotate(271 431.4 1489.6)"/><path d="M400.5,1423.5 a2.5,1.7 0 0 1 4.9,0" fill="none" stroke="#6a6a6a" stroke-width="1.5" transform="rotate(323 403.0 1423.5)"/><path d="M411.6,1462.0 a1.8,1.3 0 0 1 3.6,0" fill="none" stroke="#7a7a7a" stroke-width="1.5" transform="rotate(133 413.4 1462.0)"/><path d="M363.3,1393.1 a3.1,2.2 0 0 1 6.2,0" fill="none" stroke="#5a5a5a" stroke-width="1.5" transform="rotate(35 366.4 1393.1)"/><path d="M466.6,1484.9 a2.3,1.6 0 0 1 4.6,0" fill="none" stroke="#5a5a5a" stroke-width="1.5" transform="rotate(315 468.9 1484.9)"/><path d="M443.4,1473.0 a3.2,2.2 0 0 1 6.3,0" fill="none" stroke="#8a8a8a" stroke-width="1.5" transform="rotate(144 446.6 1473.0)"/><path d="M422.7,1468.1 a1.9,1.3 0 0 1 3.7,0" fill="none" stroke="#7a7a7a" stroke-width="1.5" transform="rotate(122 424.5 1468.1)"/><path d="M422.4,1466.6 a2.1,1.5 0 0 1 4.2,0" fill="none" stroke="#5a5a5a" stroke-width="1.5" transform="rotate(245 424.5 1466.6)"/><path d="M488.3,1426.8 a2.8,2.0 0 0 1 5.7,0" fill="none" stroke="#8a8a8a" stroke-width="1.5" transform="rotate(9 491.1 1426.8)"/><path d="M461.4,1439.7 a2.1,1.5 0 0 1 4.3,0" fill="none" stroke="#5a5a5a" stroke-width="1.5" transform="rotate(159 463.6 1439.7)"/><path d="M492.8,1420.9 a2.2,1.5 0 0 1 4.4,0" fill="none" stroke="#8a8a8a" stroke-width="1.5" transform="rotate(260 495.0 1420.9)"/><path d="M372.8,1433.9 a2.7,1.9 0 0 1 5.4,0" fill="none" stroke="#7a7a7a" stroke-width="1.5" transform="rotate(222 375.5 1433.9)"/><path d="M381.1,1438.2 a2.6,1.8 0 0 1 5.2,0" fill="none" stroke="#7a7a7a" stroke-width="1.5" transform="rotate(280 383.7 1438.2)"/><path d="M423.1,1483.9 a2.2,1.6 0 0 1 4.5,0" fill="none" stroke="#7a7a7a" stroke-width="1.5" transform="rotate(9 425.3 1483.9)"/><path d="M346.7,1444.3 a2.3,1.6 0 0 1 4.7,0" fill="none" stroke="#6a6a6a" stroke-width="1.5" transform="rotate(211 349.0 1444.3)"/><path d="M387.3,1448.0 a2.3,1.6 0 0 1 4.6,0" fill="none" stroke="#5a5a5a" stroke-width="1.5" transform="rotate(36 389.6 1448.0)"/><path d="M471.0,1474.6 a1.9,1.3 0 0 1 3.7,0" fill="none" stroke="#5a5a5a" stroke-width="1.5" transform="rotate(113 472.8 1474.6)"/><path d="M377.4,1471.2 a1.9,1.3 0 0 1 3.7,0" fill="none" stroke="#6a6a6a" stroke-width="1.5" transform="rotate(231 379.3 1471.2)"/><path d="M354.6,1453.6 a3.1,2.2 0 0 1 6.3,0" fill="none" stroke="#6a6a6a" stroke-width="1.5" transform="rotate(296 357.8 1453.6)"/><path d="M413.6,1485.2 a3.1,2.2 0 0 1 6.2,0" fill="none" stroke="#8a8a8a" stroke-width="1.5" transform="rotate(47 416.7 1485.2)"/><path d="M399.8,1477.2 a2.6,1.8 0 0 1 5.3,0" fill="none" stroke="#6a6a6a" stroke-width="1.5" transform="rotate(339 402.4 1477.2)"/><path d="M436.8,1471.9 a2.5,1.8 0 0 1 5.0,0" fill="none" stroke="#5a5a5a" stroke-width="1.5" transform="rotate(304 439.3 1471.9)"/><path d="M455.4,1488.5 a2.9,2.1 0 0 1 5.9,0" fill="none" stroke="#8a8a8a" stroke-width="1.5" transform="rotate(62 458.3 1488.5)"/><path d="M442.6,1405.6 a2.8,1.9 0 0 1 5.5,0" fill="none" stroke="#6a6a6a" stroke-width="1.5" transform="rotate(297 445.4 1405.6)"/><path d="M479.4,1424.0 a2.0,1.4 0 0 1 4.0,0" fill="none" stroke="#6a6a6a" stroke-width="1.5" transform="rotate(1 481.4 1424.0)"/><path d="M461.0,1415.6 a2.5,1.7 0 0 1 4.9,0" fill="none" stroke="#8a8a8a" stroke-width="1.5" transform="rotate(178 463.5 1415.6)"/><path d="M349.5,1489.7 a2.3,1.6 0 0 1 4.5,0" fill="none" stroke="#8a8a8a" stroke-width="1.5" transform="rotate(105 351.7 1489.7)"/><path d="M485.6,1489.3 a1.9,1.3 0 0 1 3.8,0" fill="none" stroke="#6a6a6a" stroke-width="1.5" transform="rotate(101 487.5 1489.3)"/><path d="M496.0,1457.7 a1.9,1.3 0 0 1 3.8,0" fill="none" stroke="#6a6a6a" stroke-width="1.5" transform="rotate(245 498.0 1457.7)"/><path d="M421.2,1494.0 a2.9,2.0 0 0 1 5.7,0" fill="none" stroke="#6a6a6a" stroke-width="1.5" transform="rotate(94 424.1 1494.0)"/><path d="M510.3,1449.0 a2.5,1.8 0 0 1 5.0,0" fill="none" stroke="#6a6a6a" stroke-width="1.5" transform="rotate(206 512.8 1449.0)"/><path d="M431.6,1484.8 a2.5,1.7 0 0 1 5.0,0" fill="none" stroke="#6a6a6a" stroke-width="1.5" transform="rotate(1 434.1 1484.8)"/><path d="M421.2,1420.3 a1.8,1.3 0 0 1 3.6,0" fill="none" stroke="#7a7a7a" stroke-width="1.5" transform="rotate(208 423.0 1420.3)"/><path d="M467.8,1426.0 a2.6,1.8 0 0 1 5.2,0" fill="none" stroke="#5a5a5a" stroke-width="1.5" transform="rotate(193 470.4 1426.0)"/><path d="M425.0,1453.1 a2.0,1.4 0 0 1 4.1,0" fill="none" stroke="#5a5a5a" stroke-width="1.5" transform="rotate(121 427.0 1453.1)"/><path d="M465.9,1485.3 a3.2,2.2 0 0 1 6.4,0" fill="none" stroke="#5a5a5a" stroke-width="1.5" transform="rotate(112 469.1 1485.3)"/><path d="M480.1,1406.6 a3.2,2.2 0 0 1 6.3,0" fill="none" stroke="#5a5a5a" stroke-width="1.5" transform="rotate(42 483.3 1406.6)"/><path d="M446.4,1423.5 a3.2,2.2 0 0 1 6.4,0" fill="none" stroke="#8a8a8a" stroke-width="1.5" transform="rotate(102 449.6 1423.5)"/><path d="M438.4,1490.2 a3.1,2.2 0 0 1 6.3,0" fill="none" stroke="#6a6a6a" stroke-width="1.5" transform="rotate(360 441.5 1490.2)"/><path d="M404.1,1421.4 a2.2,1.5 0 0 1 4.3,0" fill="none" stroke="#6a6a6a" stroke-width="1.5" transform="rotate(346 406.3 1421.4)"/><path d="M418.4,1489.6 a1.9,1.3 0 0 1 3.7,0" fill="none" stroke="#6a6a6a" stroke-width="1.5" transform="rotate(358 420.2 1489.6)"/><path d="M499.3,1453.0 a1.8,1.3 0 0 1 3.6,0" fill="none" stroke="#5a5a5a" stroke-width="1.5" transform="rotate(178 501.1 1453.0)"/><path d="M348.1,1400.5 a2.4,1.7 0 0 1 4.7,0" fill="none" stroke="#6a6a6a" stroke-width="1.5" transform="rotate(323 350.5 1400.5)"/><path d="M433.0,1394.8 a2.8,1.9 0 0 1 5.5,0" fill="none" stroke="#8a8a8a" stroke-width="1.5" transform="rotate(182 435.8 1394.8)"/><path d="M507.7,1418.2 a2.9,2.0 0 0 1 5.8,0" fill="none" stroke="#6a6a6a" stroke-width="1.5" transform="rotate(320 510.6 1418.2)"/><path d="M453.8,1488.2 a2.8,2.0 0 0 1 5.6,0" fill="none" stroke="#7a7a7a" stroke-width="1.5" transform="rotate(198 456.6 1488.2)"/><path d="M507.4,1409.8 a2.5,1.8 0 0 1 5.0,0" fill="none" stroke="#6a6a6a" stroke-width="1.5" transform="rotate(288 509.9 1409.8)"/><path d="M389.4,1412.1 a2.5,1.7 0 0 1 5.0,0" fill="none" stroke="#8a8a8a" stroke-width="1.5" transform="rotate(60 391.9 1412.1)"/><path d="M370.6,1443.6 a2.8,2.0 0 0 1 5.6,0" fill="none" stroke="#7a7a7a" stroke-width="1.5" transform="rotate(58 373.4 1443.6)"/><path d="M379.3,1448.6 a2.0,1.4 0 0 1 4.0,0" fill="none" stroke="#5a5a5a" stroke-width="1.5" transform="rotate(340 381.3 1448.6)"/><path d="M477.6,1422.0 a2.4,1.7 0 0 1 4.8,0" fill="none" stroke="#8a8a8a" stroke-width="1.5" transform="rotate(331 480.0 1422.0)"/><path d="M457.4,1455.4 a2.5,1.8 0 0 1 5.0,0" fill="none" stroke="#6a6a6a" stroke-width="1.5" transform="rotate(153 459.9 1455.4)"/><path d="M343.7,1471.7 a2.9,2.0 0 0 1 5.8,0" fill="none" stroke="#8a8a8a" stroke-width="1.5" transform="rotate(138 346.6 1471.7)"/><path d="M459.2,1414.9 a2.2,1.5 0 0 1 4.4,0" fill="none" stroke="#6a6a6a" stroke-width="1.5" transform="rotate(253 461.4 1414.9)"/><g transform="translate(741.5,10)"><rect x="205" y="908" width="447" height="260" fill="url(#paperg)"/><g transform="translate(205,908)"><text x="27" y="41" font-family="'Liberation Sans', sans-serif" font-size="4.5" fill="#2a2a2a">Form</text><text x="44" y="40.5" font-family="'Liberation Sans', sans-serif" font-size="14.5" font-weight="bold" textLength="43.6" lengthAdjust="spacingAndGlyphs" fill="#1a1a1a">W-8BEN</text><text x="26" y="49.5" font-family="'Liberation Sans', sans-serif" font-size="5.2" textLength="50" lengthAdjust="spacingAndGlyphs" fill="#2a2a2a">(Rev. February 2006)</text><text x="26" y="58.5" font-family="'Liberation Sans', sans-serif" font-size="5" textLength="61" lengthAdjust="spacingAndGlyphs" fill="#2a2a2a">Department of the Treasury</text><text x="26" y="64.5" font-family="'Liberation Sans', sans-serif" font-size="5" textLength="56" lengthAdjust="spacingAndGlyphs" fill="#2a2a2a">Internal Revenue Service</text><line x1="91.5" y1="30" x2="91.5" y2="64.5" stroke="#444" stroke-width="1.0"/><text x="108.6" y="39" font-family="'Liberation Sans', sans-serif" font-size="11.2" font-weight="bold" textLength="231.9" lengthAdjust="spacingAndGlyphs" fill="#1a1a1a">Certificate of Foreign Status of Beneficial Owner</text><text x="144" y="49.5" font-family="'Liberation Sans', sans-serif" font-size="11.2" font-weight="bold" textLength="161.4" lengthAdjust="spacingAndGlyphs" fill="#1a1a1a">for United States Tax Withholding</text><text x="99" y="57.2" font-family="'Liberation Sans', sans-serif" font-size="5.9" font-weight="bold" textLength="250.5" lengthAdjust="spacingAndGlyphs" fill="#222">► Section references are to the Internal Revenue Code.   ► See separate instructions.</text><text x="115.5" y="64.8" font-family="'Liberation Sans', sans-serif" font-size="5.9" font-weight="bold" textLength="217.5" lengthAdjust="spacingAndGlyphs" fill="#222">► Give this form to the withholding agent or payer. Do not send to the IRS.</text><line x1="357" y1="30" x2="357" y2="64.5" stroke="#444" stroke-width="1.0"/><text x="364.5" y="50.5" font-family="'Liberation Sans', sans-serif" font-size="5" textLength="49.5" lengthAdjust="spacingAndGlyphs" fill="#2a2a2a">OMB No. 1545-1621</text><line x1="26.4" y1="66.6" x2="422.6" y2="66.6" stroke="#333" stroke-width="1.4"/><text x="26.6" y="74.2" font-family="'Liberation Sans', sans-serif" font-size="5.8" font-weight="bold" textLength="63" lengthAdjust="spacingAndGlyphs" fill="#1e1e1e">Do not use this form for:</text><text x="422.6" y="74.2" font-family="'Liberation Sans', sans-serif" font-size="5.8" font-weight="bold" text-anchor="end" fill="#1e1e1e">Instead, use Form:</text><text x="32.8" y="81.5" font-family="'Liberation Sans', sans-serif" font-size="6.1" textLength="193" lengthAdjust="spacingAndGlyphs" fill="#2a2a2a">A U.S. citizen or other U.S. person, including a resident alien individual</text><circle cx="29" cy="79.5" r="1.2" fill="#222"/><text x="422.6" y="81.5" font-family="'Liberation Sans', sans-serif" font-size="6.1" text-anchor="end" fill="#2a2a2a">W-9</text><line x1="231.8" y1="80.3" x2="408.40000000000003" y2="80.3" stroke="#555" stroke-width="1.1" stroke-dasharray="1.1,7.800000000000001"/><text x="32.8" y="88.9" font-family="'Liberation Sans', sans-serif" font-size="6.1" textLength="196.2" lengthAdjust="spacingAndGlyphs" fill="#2a2a2a">A person claiming that income is effectively connected with the conduct</text><circle cx="29" cy="86.9" r="1.2" fill="#222"/><text x="32.8" y="95.0" font-family="'Liberation Sans', sans-serif" font-size="6.1" textLength="114.8" lengthAdjust="spacingAndGlyphs" fill="#2a2a2a">of a trade or business in the United States</text><text x="422.6" y="95.0" font-family="'Liberation Sans', sans-serif" font-size="6.1" text-anchor="end" fill="#2a2a2a">W-8ECI</text><line x1="153.6" y1="93.8" x2="398.20000000000005" y2="93.8" stroke="#555" stroke-width="1.1" stroke-dasharray="1.1,7.800000000000001"/><text x="32.8" y="103" font-family="'Liberation Sans', sans-serif" font-size="6.1" textLength="276" lengthAdjust="spacingAndGlyphs" fill="#2a2a2a">A foreign partnership, a foreign simple trust, or a foreign grantor trust (see instructions for exceptions)</text><circle cx="29" cy="101" r="1.2" fill="#222"/><text x="422.6" y="103" font-family="'Liberation Sans', sans-serif" font-size="6.1" text-anchor="end" fill="#2a2a2a">W-8ECI or W-8IMY</text><line x1="314.8" y1="101.8" x2="364.20000000000005" y2="101.8" stroke="#555" stroke-width="1.1" stroke-dasharray="1.1,7.800000000000001"/><text x="32.8" y="110" font-family="'Liberation Sans', sans-serif" font-size="6.1" textLength="292" lengthAdjust="spacingAndGlyphs" fill="#2a2a2a">A foreign government, international organization, foreign central bank of issue, foreign tax-exempt organization,</text><circle cx="29" cy="108" r="1.2" fill="#222"/><text x="32.8" y="116.7" font-family="'Liberation Sans', sans-serif" font-size="6.1" textLength="300" lengthAdjust="spacingAndGlyphs" fill="#2a2a2a">foreign private foundation, or government of a U.S. possession that received effectively connected income or that is</text><text x="32.8" y="123" font-family="'Liberation Sans', sans-serif" font-size="6.1" textLength="255" lengthAdjust="spacingAndGlyphs" fill="#2a2a2a">claiming the applicability of section(s) 115(2), 501(c), 892, 895, or 1443(b) (see instructions)</text><text x="422.6" y="123" font-family="'Liberation Sans', sans-serif" font-size="6.1" text-anchor="end" fill="#2a2a2a">W-8ECI or W-8EXP</text><line x1="293.8" y1="121.8" x2="364.20000000000005" y2="121.8" stroke="#555" stroke-width="1.1" stroke-dasharray="1.1,7.800000000000001"/><text x="32.8" y="144.8" font-family="'Liberation Sans', sans-serif" font-size="6.1" textLength="92" lengthAdjust="spacingAndGlyphs" fill="#2a2a2a">A person acting as an intermediary</text><circle cx="29" cy="142.8" r="1.2" fill="#222"/><text x="422.6" y="144.8" font-family="'Liberation Sans', sans-serif" font-size="6.1" text-anchor="end" fill="#2a2a2a">W-8IMY</text><line x1="130.8" y1="143.60000000000002" x2="398.20000000000005" y2="143.60000000000002" stroke="#555" stroke-width="1.1" stroke-dasharray="1.1,7.800000000000001"/><text x="26.6" y="130.8" font-family="'Liberation Sans', sans-serif" font-size="6.1" font-weight="bold" fill="#2a2a2a">Note:</text><text x="44" y="130.8" font-family="'Liberation Sans', sans-serif" font-size="6.1" font-style="italic" textLength="279" lengthAdjust="spacingAndGlyphs" fill="#2a2a2a">These entities should use Form W-8BEN if they are claiming treaty benefits or are providing the form only to</text><text x="26.6" y="137" font-family="'Liberation Sans', sans-serif" font-size="6.1" font-style="italic" textLength="168" lengthAdjust="spacingAndGlyphs" fill="#2a2a2a">claim they are a foreign person exempt from backup withholding.</text><text x="26.6" y="152.3" font-family="'Liberation Sans', sans-serif" font-size="6.1" font-weight="bold" fill="#2a2a2a">Note:</text><text x="44" y="152.3" font-family="'Liberation Sans', sans-serif" font-size="6.1" font-style="italic" textLength="112" lengthAdjust="spacingAndGlyphs" fill="#2a2a2a">See instructions for additional exceptions.</text><line x1="26.4" y1="156.8" x2="422.6" y2="156.8" stroke="#333" stroke-width="1.4"/><rect x="27" y="157.5" width="24.6" height="8.1" fill="#111"/><text x="29" y="164.2" font-family="'Liberation Sans', sans-serif" font-size="6.8" font-weight="bold" textLength="19" lengthAdjust="spacingAndGlyphs" fill="#fff">Part I</text><text x="67.5" y="164.6" font-family="'Liberation Sans', sans-serif" font-size="7.2" font-weight="bold" textLength="121" lengthAdjust="spacingAndGlyphs" fill="#1e1e1e">Identification of Beneficial Owner</text><text x="191.5" y="164.6" font-family="'Liberation Sans', sans-serif" font-size="6.3" textLength="53" lengthAdjust="spacingAndGlyphs" fill="#2a2a2a">(See instructions.)</text><line x1="26.4" y1="165.8" x2="422.6" y2="165.8" stroke="#444" stroke-width="0.9"/><text x="32.5" y="173" font-family="'Liberation Sans', sans-serif" font-size="5.5" font-weight="bold" fill="#2a2a2a">1</text><text x="43" y="173" font-family="'Liberation Sans', sans-serif" font-size="6.1" textLength="168" lengthAdjust="spacingAndGlyphs" fill="#2a2a2a">Name of individual or organization that is the beneficial owner</text><line x1="298" y1="165.8" x2="298" y2="184" stroke="#444" stroke-width="0.9"/><text x="301" y="173" font-family="'Liberation Sans', sans-serif" font-size="5.5" font-weight="bold" fill="#2a2a2a">2</text><text x="310" y="173" font-family="'Liberation Sans', sans-serif" font-size="6.1" textLength="112" lengthAdjust="spacingAndGlyphs" fill="#2a2a2a">Country of incorporation or organization</text><line x1="26.4" y1="184" x2="422.6" y2="184" stroke="#444" stroke-width="0.9"/><text x="32.5" y="191" font-family="'Liberation Sans', sans-serif" font-size="5.5" font-weight="bold" fill="#2a2a2a">3</text><text x="43" y="191" font-family="'Liberation Sans', sans-serif" font-size="6.1" textLength="69" lengthAdjust="spacingAndGlyphs" fill="#2a2a2a">Type of beneficial owner:</text><rect x="121" y="185.5" width="5.2" height="5.2" fill="none" stroke="#444" stroke-width="0.7"/><text x="130" y="191.5" font-family="'Liberation Sans', sans-serif" font-size="5.2" fill="#2a2a2a">Individual</text><rect x="197" y="185.5" width="5.2" height="5.2" fill="none" stroke="#444" stroke-width="0.7"/><text x="206" y="191.5" font-family="'Liberation Sans', sans-serif" font-size="5.2" fill="#2a2a2a">Corporation</text><rect x="252" y="185.5" width="5.2" height="5.2" fill="none" stroke="#444" stroke-width="0.7"/><text x="261" y="191.5" font-family="'Liberation Sans', sans-serif" font-size="5.2" fill="#2a2a2a">Disregarded entity</text><rect x="317" y="185.5" width="5.2" height="5.2" fill="none" stroke="#444" stroke-width="0.7"/><text x="326" y="191.5" font-family="'Liberation Sans', sans-serif" font-size="5.2" fill="#2a2a2a">Partnership</text><rect x="372" y="185.5" width="5.2" height="5.2" fill="none" stroke="#444" stroke-width="0.7"/><text x="381" y="191.5" font-family="'Liberation Sans', sans-serif" font-size="5.2" fill="#2a2a2a">Simple trust</text><rect x="46" y="195.5" width="5.2" height="5.2" fill="none" stroke="#444" stroke-width="0.7"/><text x="55" y="201.5" font-family="'Liberation Sans', sans-serif" font-size="5.2" fill="#2a2a2a">Grantor trust</text><rect x="121" y="195.5" width="5.2" height="5.2" fill="none" stroke="#444" stroke-width="0.7"/><text x="130" y="201.5" font-family="'Liberation Sans', sans-serif" font-size="5.2" fill="#2a2a2a">Complex trust</text><rect x="197" y="195.5" width="5.2" height="5.2" fill="none" stroke="#444" stroke-width="0.7"/><text x="206" y="201.5" font-family="'Liberation Sans', sans-serif" font-size="5.2" fill="#2a2a2a">Estate</text><rect x="252" y="195.5" width="5.2" height="5.2" fill="none" stroke="#444" stroke-width="0.7"/><text x="261" y="201.5" font-family="'Liberation Sans', sans-serif" font-size="5.2" fill="#2a2a2a">Government</text><rect x="317" y="194.8" width="5.2" height="5.2" fill="none" stroke="#444" stroke-width="0.7"/><text x="326" y="200.8" font-family="'Liberation Sans', sans-serif" font-size="5.2" fill="#2a2a2a">International organization</text><rect x="46" y="203" width="5.2" height="5.2" fill="none" stroke="#444" stroke-width="0.7"/><text x="55" y="209" font-family="'Liberation Sans', sans-serif" font-size="5.2" fill="#2a2a2a">Central bank of issue</text><rect x="121" y="203" width="5.2" height="5.2" fill="none" stroke="#444" stroke-width="0.7"/><text x="130" y="209" font-family="'Liberation Sans', sans-serif" font-size="5.2" fill="#2a2a2a">Tax-exempt organization</text><rect x="197" y="203" width="5.2" height="5.2" fill="none" stroke="#444" stroke-width="0.7"/><text x="206" y="209" font-family="'Liberation Sans', sans-serif" font-size="5.2" fill="#2a2a2a">Private foundation</text><line x1="26.4" y1="211.6" x2="422.6" y2="211.6" stroke="#444" stroke-width="0.9"/><text x="32.5" y="217.6" font-family="'Liberation Sans', sans-serif" font-size="5.5" font-weight="bold" fill="#2a2a2a">4</text><text x="43" y="217.6" font-family="'Liberation Sans', sans-serif" font-size="6.1" textLength="187" lengthAdjust="spacingAndGlyphs" fill="#2a2a2a">Permanent residence address (street, apt. or suite no., or rural route).</text><text x="232" y="217.6" font-family="'Liberation Sans', sans-serif" font-size="6.1" font-weight="bold" textLength="127" lengthAdjust="spacingAndGlyphs" fill="#1a1a1a">Do not use a P.O. box or in-care-of address.</text><line x1="26.4" y1="229.5" x2="422.6" y2="229.5" stroke="#444" stroke-width="0.9"/><text x="43" y="236" font-family="'Liberation Sans', sans-serif" font-size="6.1" textLength="190" lengthAdjust="spacingAndGlyphs" fill="#2a2a2a">City or town, state or province. Include postal code where appropriate.</text><line x1="330" y1="229.5" x2="330" y2="247.5" stroke="#444" stroke-width="0.9"/><text x="335.4" y="236" font-family="'Liberation Sans', sans-serif" font-size="6.1" textLength="75" lengthAdjust="spacingAndGlyphs" fill="#2a2a2a">Country (do not abbreviate)</text><line x1="26.4" y1="247.5" x2="422.6" y2="247.5" stroke="#444" stroke-width="0.9"/></g></g><path d="M1069.5,1104 L1080,1104 L1080,997.5 L1059.75,1027.5 L1069.5,1027.5 Z" fill="url(#fadeUpL)" opacity="0.85"/><path d="M1080,1104 L1090.5,1104 L1090.5,1027.5 L1100.25,1027.5 L1080,997.5 Z" fill="url(#fadeUpR)" opacity="0.85"/><path d="M1170.9,1074 L1184.4,1074 L1184.4,926.4 L1156.65,969 L1170.9,969 Z" fill="url(#fadeUpL)" opacity="0.85"/><path d="M1184.4,1074 L1197.9,1074 L1197.9,969 L1212.15,969 L1184.4,926.4 Z" fill="url(#fadeUpR)" opacity="0.85"/><path d="M1276.4,1104 L1286.4,1104 L1286.4,996 L1266.15,1027.5 L1276.4,1027.5 Z" fill="url(#fadeUpL)" opacity="0.85"/><path d="M1286.4,1104 L1296.4,1104 L1296.4,1027.5 L1306.65,1027.5 L1286.4,996 Z" fill="url(#fadeUpR)" opacity="0.85"/><g transform="translate(741.5,9.5)"><clipPath id="silR"><path d="M82.5,1600 L83.5,1225 C84,1205 86,1192 100.9,1180 L135.6,1152.8 C141,1147 146,1141 152.5,1140.2 L205,1132 L205,1158.5 L428.5,1140.5 L652,1158.5 L652,1132 L705.5,1140.2 C712,1141 717,1147 722.4,1152.8 L757.1,1180 C772,1192 774,1205 774.5,1225 L775.5,1600 Z"/></clipPath><path d="M82.5,1600 L83.5,1225 C84,1205 86,1192 100.9,1180 L135.6,1152.8 C141,1147 146,1141 152.5,1140.2 L205,1132 L205,1158.5 L428.5,1140.5 L652,1158.5 L652,1132 L705.5,1140.2 C712,1141 717,1147 722.4,1152.8 L757.1,1180 C772,1192 774,1205 774.5,1225 L775.5,1600 Z" fill="#3b3b3b"/><g clip-path="url(#silR)"><rect x="80" y="1125" width="700" height="200" fill="url(#roof)"/><rect x="80" y="1125" width="700" height="200" fill="url(#roof2)" mask="url(#rmask)"/><path d="M60,1600 L60,1130 L152,1130 L128,1166.9 C124.5,1180 122.5,1195 122.5,1214 L122.5,1600 Z" fill="url(#sideV)"/><path d="M60,1600 L60,1130 L152,1130 L128,1166.9 C124.5,1180 122.5,1195 122.5,1214 L122.5,1600 Z" fill="url(#sideL)" opacity="0.5"/><path d="M800,1600 L800,1130 L706,1130 L730,1166.9 C733.5,1180 735.5,1195 735.5,1214 L735.5,1600 Z" fill="url(#sideVR)"/><path d="M800,1600 L800,1130 L706,1130 L730,1166.9 C733.5,1180 735.5,1195 735.5,1214 L735.5,1600 Z" fill="url(#sideR)" opacity="0.5"/><path d="M154.8,1173.4 L163.7,1157.5 L169.3,1155 L205,1152.3 L205,1158.9 L173,1162 L166.5,1173.4 Z" fill="#6e6e6e"/><path d="M169.3,1155 L205,1152.3 L205,1155.5 L171,1158 Z" fill="#2a2a2a" opacity="0.8"/><path d="M703.2,1173.4 L694.3,1157.5 L688.7,1155 L652,1152.3 L652,1158.9 L685,1162 L691.5,1173.4 Z" fill="#808080"/><path d="M688.7,1155 L652,1152.3 L652,1155.5 L687,1158 Z" fill="#2a2a2a" opacity="0.8"/><line x1="428.5" y1="1140" x2="428.5" y2="1173" stroke="#888" stroke-width="1" opacity="0.5"/><path d="M205,1158.5 L428.5,1140.5 L652,1158.5" fill="none" stroke="#222" stroke-width="1.3" opacity="0.7"/><path d="M324.5,1325 V1250 C324.5,1210 372,1190 428.5,1172.5 V1325 Z" fill="#151515"/><path d="M533,1325 V1250 C533,1210 485,1190 428.5,1172.5 V1325 Z" fill="#2a2a2a"/><path d="M324.5,1260 V1250 C324.5,1210 372,1190 428.5,1172.5 C485,1190 533,1210 533,1250 V1260" fill="none" stroke="#8a8a8a" stroke-opacity="0.45" stroke-width="1.2"/><rect x="60" y="1325" width="740" height="280" fill="url(#binH)"/><rect x="60" y="1325" width="62.5" height="280" fill="#3d3d3e"/><rect x="736" y="1325" width="60" height="280" fill="#39393a"/><line x1="60" y1="1324.5" x2="800" y2="1324.5" stroke="#1a1a1a" stroke-width="1.6"/><line x1="60" y1="1326.3" x2="800" y2="1326.3" stroke="#5a5a5a" stroke-width="0.8" opacity="0.6"/></g><rect x="322" y="1385" width="212.5" height="220" fill="#2b2b2b"/><rect x="325" y="1385" width="1.2" height="220" fill="#555"/><rect x="336" y="1385" width="92.8" height="220" fill="url(#winL)"/><rect x="428.8" y="1385" width="92.6" height="220" fill="url(#winR)"/><rect x="521.4" y="1385" width="13.1" height="220" fill="url(#frameR)"/><rect x="259" y="1327.3" width="339.6" height="58.2" fill="url(#handle)"/><rect x="259" y="1327.3" width="22.6" height="58.2" fill="url(#capL)"/><rect x="577.2" y="1327.3" width="21.4" height="58.2" fill="url(#capR)"/><line x1="259" y1="1384.8" x2="598.6" y2="1384.8" stroke="#d8d8d8" stroke-width="1.2"/><line x1="259" y1="1327.8" x2="598.6" y2="1327.8" stroke="#777" stroke-width="1"/><path d="M336,1605 L336.0,1515.9 L342.2,1514.0 L348.4,1511.7 L354.5,1512.9 L360.7,1510.9 L366.9,1504.3 L373.1,1506.2 L379.3,1507.6 L385.4,1502.9 L391.6,1502.3 L397.8,1499.8 L404.0,1500.8 L410.2,1498.2 L416.3,1493.6 L422.5,1499.5 L428.7,1493.4 L434.9,1498.4 L441.1,1494.2 L447.2,1496.5 L453.4,1495.0 L459.6,1499.0 L465.8,1498.6 L472.0,1497.0 L478.1,1499.9 L484.3,1497.6 L490.5,1502.4 L496.7,1499.3 L502.9,1497.0 L509.0,1503.6 L515.2,1498.9 L521.4,1498.1 L521.4,1605 Z" fill="url(#shredpat)"/><rect x="336" y="1386" width="92.8" height="220" fill="#000" opacity="0.16"/></g></svg></body></html>
